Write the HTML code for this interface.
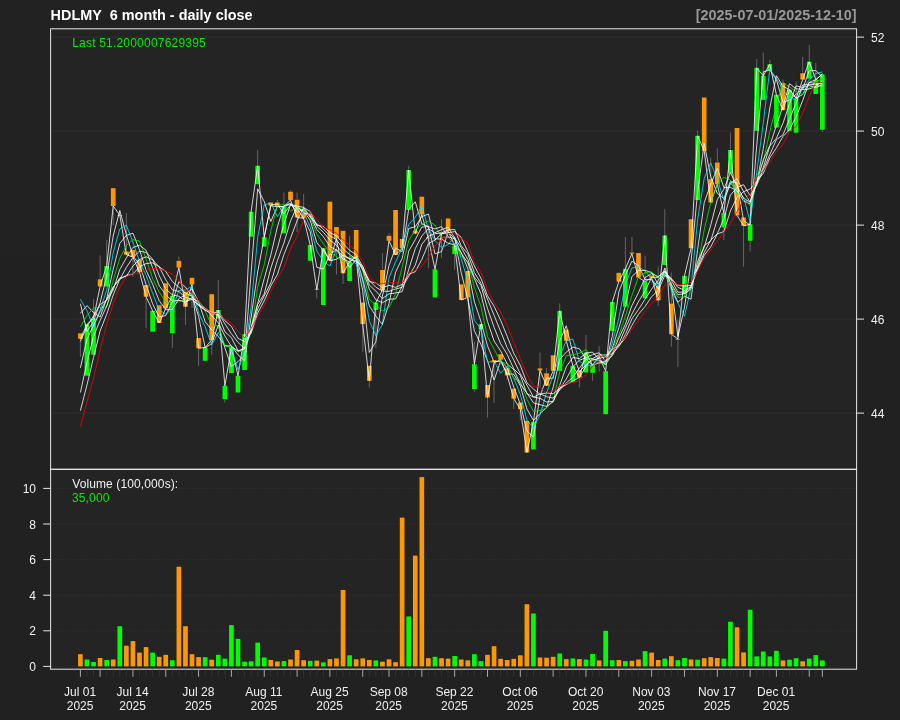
<!DOCTYPE html><html><head><meta charset="utf-8"><title>chart</title><style>html,body{margin:0;padding:0;background:#222222}svg{display:block;will-change:transform;opacity:0.999}text{font-family:"Liberation Sans",sans-serif}</style></head><body>
<svg width="900" height="720" viewBox="0 0 900 720">
<rect x="0" y="0" width="900" height="720" fill="#222222"/>
<rect x="50.6" y="28.8" width="806.0" height="640.4" fill="#252525"/>
<line x1="50.6" x2="856.6" y1="413.10" y2="413.10" stroke="#303030" stroke-width="1"/>
<line x1="50.6" x2="856.6" y1="319.10" y2="319.10" stroke="#303030" stroke-width="1"/>
<line x1="50.6" x2="856.6" y1="225.10" y2="225.10" stroke="#303030" stroke-width="1"/>
<line x1="50.6" x2="856.6" y1="131.10" y2="131.10" stroke="#303030" stroke-width="1"/>
<line x1="50.6" x2="856.6" y1="37.10" y2="37.10" stroke="#303030" stroke-width="1"/>
<line x1="50.6" x2="856.6" y1="666.40" y2="666.40" stroke="#383838" stroke-width="0.9" stroke-dasharray="1 2"/>
<line x1="50.6" x2="856.6" y1="630.80" y2="630.80" stroke="#383838" stroke-width="0.9" stroke-dasharray="1 2"/>
<line x1="50.6" x2="856.6" y1="595.20" y2="595.20" stroke="#383838" stroke-width="0.9" stroke-dasharray="1 2"/>
<line x1="50.6" x2="856.6" y1="559.60" y2="559.60" stroke="#383838" stroke-width="0.9" stroke-dasharray="1 2"/>
<line x1="50.6" x2="856.6" y1="524.00" y2="524.00" stroke="#383838" stroke-width="0.9" stroke-dasharray="1 2"/>
<line x1="50.6" x2="856.6" y1="488.40" y2="488.40" stroke="#383838" stroke-width="0.9" stroke-dasharray="1 2"/>
<line x1="80.40" x2="80.40" y1="333.3" y2="356.7" stroke="#666666" stroke-width="1"/>
<line x1="86.97" x2="86.97" y1="324.3" y2="375.7" stroke="#666666" stroke-width="1"/>
<line x1="93.53" x2="93.53" y1="299.0" y2="354.7" stroke="#666666" stroke-width="1"/>
<line x1="100.10" x2="100.10" y1="255.3" y2="286.5" stroke="#666666" stroke-width="1"/>
<line x1="106.66" x2="106.66" y1="240.0" y2="286.5" stroke="#666666" stroke-width="1"/>
<line x1="113.23" x2="113.23" y1="188.2" y2="225.0" stroke="#666666" stroke-width="1"/>
<line x1="119.80" x2="119.80" y1="213.0" y2="216.0" stroke="#666666" stroke-width="1"/>
<line x1="126.36" x2="126.36" y1="213.3" y2="254.7" stroke="#666666" stroke-width="1"/>
<line x1="132.93" x2="132.93" y1="250.0" y2="276.7" stroke="#666666" stroke-width="1"/>
<line x1="139.49" x2="139.49" y1="259.5" y2="272.3" stroke="#666666" stroke-width="1"/>
<line x1="146.06" x2="146.06" y1="285.0" y2="328.3" stroke="#666666" stroke-width="1"/>
<line x1="152.63" x2="152.63" y1="310.8" y2="331.7" stroke="#666666" stroke-width="1"/>
<line x1="159.19" x2="159.19" y1="305.3" y2="323.0" stroke="#666666" stroke-width="1"/>
<line x1="165.76" x2="165.76" y1="283.3" y2="308.3" stroke="#666666" stroke-width="1"/>
<line x1="172.32" x2="172.32" y1="295.8" y2="348.0" stroke="#666666" stroke-width="1"/>
<line x1="178.89" x2="178.89" y1="256.7" y2="267.5" stroke="#666666" stroke-width="1"/>
<line x1="185.46" x2="185.46" y1="291.7" y2="325.0" stroke="#666666" stroke-width="1"/>
<line x1="192.02" x2="192.02" y1="277.8" y2="308.0" stroke="#666666" stroke-width="1"/>
<line x1="198.59" x2="198.59" y1="338.0" y2="365.8" stroke="#666666" stroke-width="1"/>
<line x1="205.15" x2="205.15" y1="347.3" y2="360.8" stroke="#666666" stroke-width="1"/>
<line x1="211.72" x2="211.72" y1="294.2" y2="354.7" stroke="#666666" stroke-width="1"/>
<line x1="218.29" x2="218.29" y1="280.0" y2="318.3" stroke="#666666" stroke-width="1"/>
<line x1="224.85" x2="224.85" y1="385.8" y2="402.5" stroke="#666666" stroke-width="1"/>
<line x1="231.42" x2="231.42" y1="347.5" y2="373.0" stroke="#666666" stroke-width="1"/>
<line x1="237.98" x2="237.98" y1="375.8" y2="392.5" stroke="#666666" stroke-width="1"/>
<line x1="244.55" x2="244.55" y1="334.2" y2="370.0" stroke="#666666" stroke-width="1"/>
<line x1="251.12" x2="251.12" y1="211.7" y2="236.7" stroke="#666666" stroke-width="1"/>
<line x1="257.68" x2="257.68" y1="150.0" y2="184.2" stroke="#666666" stroke-width="1"/>
<line x1="264.25" x2="264.25" y1="237.2" y2="246.7" stroke="#666666" stroke-width="1"/>
<line x1="270.81" x2="270.81" y1="202.5" y2="205.8" stroke="#666666" stroke-width="1"/>
<line x1="277.38" x2="277.38" y1="200.0" y2="206.7" stroke="#666666" stroke-width="1"/>
<line x1="283.95" x2="283.95" y1="192.5" y2="233.3" stroke="#666666" stroke-width="1"/>
<line x1="290.51" x2="290.51" y1="190.0" y2="200.0" stroke="#666666" stroke-width="1"/>
<line x1="297.08" x2="297.08" y1="192.5" y2="232.0" stroke="#666666" stroke-width="1"/>
<line x1="303.64" x2="303.64" y1="194.0" y2="218.3" stroke="#666666" stroke-width="1"/>
<line x1="310.21" x2="310.21" y1="245.0" y2="260.8" stroke="#666666" stroke-width="1"/>
<line x1="316.78" x2="316.78" y1="288.8" y2="298.3" stroke="#666666" stroke-width="1"/>
<line x1="323.34" x2="323.34" y1="248.3" y2="305.0" stroke="#666666" stroke-width="1"/>
<line x1="329.91" x2="329.91" y1="201.7" y2="260.5" stroke="#666666" stroke-width="1"/>
<line x1="336.47" x2="336.47" y1="227.0" y2="274.8" stroke="#666666" stroke-width="1"/>
<line x1="343.04" x2="343.04" y1="230.8" y2="284.0" stroke="#666666" stroke-width="1"/>
<line x1="349.61" x2="349.61" y1="236.0" y2="281.0" stroke="#666666" stroke-width="1"/>
<line x1="356.17" x2="356.17" y1="230.0" y2="257.0" stroke="#666666" stroke-width="1"/>
<line x1="362.74" x2="362.74" y1="302.5" y2="351.7" stroke="#666666" stroke-width="1"/>
<line x1="369.30" x2="369.30" y1="365.8" y2="387.5" stroke="#666666" stroke-width="1"/>
<line x1="375.87" x2="375.87" y1="302.5" y2="348.0" stroke="#666666" stroke-width="1"/>
<line x1="382.44" x2="382.44" y1="253.0" y2="290.0" stroke="#666666" stroke-width="1"/>
<line x1="389.00" x2="389.00" y1="233.0" y2="240.8" stroke="#666666" stroke-width="1"/>
<line x1="395.57" x2="395.57" y1="210.0" y2="255.0" stroke="#666666" stroke-width="1"/>
<line x1="402.13" x2="402.13" y1="239.0" y2="248.3" stroke="#666666" stroke-width="1"/>
<line x1="408.70" x2="408.70" y1="165.8" y2="210.0" stroke="#666666" stroke-width="1"/>
<line x1="415.27" x2="415.27" y1="230.6" y2="233.6" stroke="#666666" stroke-width="1"/>
<line x1="421.83" x2="421.83" y1="196.7" y2="214.4" stroke="#666666" stroke-width="1"/>
<line x1="428.40" x2="428.40" y1="225.0" y2="268.0" stroke="#666666" stroke-width="1"/>
<line x1="434.96" x2="434.96" y1="269.2" y2="297.5" stroke="#666666" stroke-width="1"/>
<line x1="441.53" x2="441.53" y1="219.0" y2="257.8" stroke="#666666" stroke-width="1"/>
<line x1="448.10" x2="448.10" y1="218.5" y2="231.0" stroke="#666666" stroke-width="1"/>
<line x1="454.66" x2="454.66" y1="245.5" y2="269.7" stroke="#666666" stroke-width="1"/>
<line x1="461.23" x2="461.23" y1="284.4" y2="300.0" stroke="#666666" stroke-width="1"/>
<line x1="467.79" x2="467.79" y1="271.0" y2="297.4" stroke="#666666" stroke-width="1"/>
<line x1="474.36" x2="474.36" y1="341.7" y2="391.7" stroke="#666666" stroke-width="1"/>
<line x1="480.93" x2="480.93" y1="324.2" y2="329.2" stroke="#666666" stroke-width="1"/>
<line x1="487.49" x2="487.49" y1="385.0" y2="417.5" stroke="#666666" stroke-width="1"/>
<line x1="494.06" x2="494.06" y1="360.0" y2="403.0" stroke="#666666" stroke-width="1"/>
<line x1="500.62" x2="500.62" y1="354.2" y2="359.7" stroke="#666666" stroke-width="1"/>
<line x1="507.19" x2="507.19" y1="368.3" y2="380.0" stroke="#666666" stroke-width="1"/>
<line x1="513.76" x2="513.76" y1="388.7" y2="409.0" stroke="#666666" stroke-width="1"/>
<line x1="520.32" x2="520.32" y1="402.5" y2="420.0" stroke="#666666" stroke-width="1"/>
<line x1="526.89" x2="526.89" y1="420.8" y2="452.5" stroke="#666666" stroke-width="1"/>
<line x1="533.45" x2="533.45" y1="421.7" y2="449.5" stroke="#666666" stroke-width="1"/>
<line x1="540.02" x2="540.02" y1="352.5" y2="386.7" stroke="#666666" stroke-width="1"/>
<line x1="546.59" x2="546.59" y1="368.0" y2="385.8" stroke="#666666" stroke-width="1"/>
<line x1="553.15" x2="553.15" y1="355.3" y2="370.8" stroke="#666666" stroke-width="1"/>
<line x1="559.72" x2="559.72" y1="303.3" y2="370.8" stroke="#666666" stroke-width="1"/>
<line x1="566.28" x2="566.28" y1="329.7" y2="340.8" stroke="#666666" stroke-width="1"/>
<line x1="572.85" x2="572.85" y1="365.8" y2="381.7" stroke="#666666" stroke-width="1"/>
<line x1="579.42" x2="579.42" y1="370.5" y2="387.5" stroke="#666666" stroke-width="1"/>
<line x1="585.98" x2="585.98" y1="335.0" y2="372.5" stroke="#666666" stroke-width="1"/>
<line x1="592.55" x2="592.55" y1="365.0" y2="380.8" stroke="#666666" stroke-width="1"/>
<line x1="599.11" x2="599.11" y1="346.0" y2="371.7" stroke="#666666" stroke-width="1"/>
<line x1="605.68" x2="605.68" y1="371.2" y2="414.2" stroke="#666666" stroke-width="1"/>
<line x1="612.25" x2="612.25" y1="302.0" y2="330.8" stroke="#666666" stroke-width="1"/>
<line x1="618.81" x2="618.81" y1="272.8" y2="281.7" stroke="#666666" stroke-width="1"/>
<line x1="625.38" x2="625.38" y1="237.0" y2="306.7" stroke="#666666" stroke-width="1"/>
<line x1="631.94" x2="631.94" y1="237.0" y2="253.7" stroke="#666666" stroke-width="1"/>
<line x1="638.51" x2="638.51" y1="253.0" y2="277.5" stroke="#666666" stroke-width="1"/>
<line x1="645.08" x2="645.08" y1="255.8" y2="298.3" stroke="#666666" stroke-width="1"/>
<line x1="651.64" x2="651.64" y1="275.5" y2="277.5" stroke="#666666" stroke-width="1"/>
<line x1="658.21" x2="658.21" y1="266.7" y2="305.8" stroke="#666666" stroke-width="1"/>
<line x1="664.77" x2="664.77" y1="209.2" y2="265.0" stroke="#666666" stroke-width="1"/>
<line x1="671.34" x2="671.34" y1="272.5" y2="346.7" stroke="#666666" stroke-width="1"/>
<line x1="677.91" x2="677.91" y1="320.0" y2="366.8" stroke="#666666" stroke-width="1"/>
<line x1="684.47" x2="684.47" y1="275.8" y2="294.2" stroke="#666666" stroke-width="1"/>
<line x1="691.04" x2="691.04" y1="219.2" y2="248.3" stroke="#666666" stroke-width="1"/>
<line x1="697.60" x2="697.60" y1="130.8" y2="200.0" stroke="#666666" stroke-width="1"/>
<line x1="704.17" x2="704.17" y1="97.5" y2="150.8" stroke="#666666" stroke-width="1"/>
<line x1="710.74" x2="710.74" y1="157.5" y2="202.5" stroke="#666666" stroke-width="1"/>
<line x1="717.30" x2="717.30" y1="148.3" y2="184.2" stroke="#666666" stroke-width="1"/>
<line x1="723.87" x2="723.87" y1="213.0" y2="240.0" stroke="#666666" stroke-width="1"/>
<line x1="730.43" x2="730.43" y1="132.5" y2="173.3" stroke="#666666" stroke-width="1"/>
<line x1="737.00" x2="737.00" y1="128.0" y2="215.3" stroke="#666666" stroke-width="1"/>
<line x1="743.57" x2="743.57" y1="217.5" y2="266.7" stroke="#666666" stroke-width="1"/>
<line x1="750.13" x2="750.13" y1="224.2" y2="251.7" stroke="#666666" stroke-width="1"/>
<line x1="756.70" x2="756.70" y1="59.0" y2="130.8" stroke="#666666" stroke-width="1"/>
<line x1="763.26" x2="763.26" y1="52.5" y2="99.9" stroke="#666666" stroke-width="1"/>
<line x1="769.83" x2="769.83" y1="59.8" y2="70.7" stroke="#666666" stroke-width="1"/>
<line x1="776.40" x2="776.40" y1="94.8" y2="127.6" stroke="#666666" stroke-width="1"/>
<line x1="782.96" x2="782.96" y1="79.5" y2="110.1" stroke="#666666" stroke-width="1"/>
<line x1="789.53" x2="789.53" y1="89.7" y2="131.2" stroke="#666666" stroke-width="1"/>
<line x1="796.09" x2="796.09" y1="81.7" y2="132.7" stroke="#666666" stroke-width="1"/>
<line x1="802.66" x2="802.66" y1="56.9" y2="79.5" stroke="#666666" stroke-width="1"/>
<line x1="809.23" x2="809.23" y1="44.9" y2="78.7" stroke="#666666" stroke-width="1"/>
<line x1="815.79" x2="815.79" y1="62.7" y2="94.0" stroke="#666666" stroke-width="1"/>
<line x1="822.36" x2="822.36" y1="74.4" y2="132.0" stroke="#666666" stroke-width="1"/>
<rect x="77.55" y="332.8" width="5.70" height="6.5" fill="#1b2330"/>
<rect x="78.05" y="333.3" width="4.70" height="5.5" fill="#FF9900"/>
<rect x="84.12" y="323.8" width="5.70" height="52.4" fill="#1b2330"/>
<rect x="84.62" y="324.3" width="4.70" height="51.4" fill="#00FF00"/>
<rect x="90.68" y="318.0" width="5.70" height="37.2" fill="#1b2330"/>
<rect x="91.18" y="318.5" width="4.70" height="36.2" fill="#00FF00"/>
<rect x="97.25" y="278.8" width="5.70" height="8.2" fill="#1b2330"/>
<rect x="97.75" y="279.3" width="4.70" height="7.2" fill="#FF9900"/>
<rect x="103.81" y="265.5" width="5.70" height="21.5" fill="#1b2330"/>
<rect x="104.31" y="266.0" width="4.70" height="20.5" fill="#00FF00"/>
<rect x="110.38" y="187.7" width="5.70" height="18.8" fill="#1b2330"/>
<rect x="110.88" y="188.2" width="4.70" height="17.8" fill="#FF9900"/>
<rect x="116.95" y="214.5" width="5.70" height="1.8" fill="#1b2330"/>
<rect x="117.45" y="215.0" width="4.70" height="0.8" fill="#00FF00"/>
<rect x="123.51" y="251.0" width="5.70" height="4.2" fill="#1b2330"/>
<rect x="124.01" y="251.5" width="4.70" height="3.2" fill="#FF9900"/>
<rect x="130.08" y="249.5" width="5.70" height="8.0" fill="#1b2330"/>
<rect x="130.58" y="250.0" width="4.70" height="7.0" fill="#FF9900"/>
<rect x="136.64" y="259.0" width="5.70" height="13.8" fill="#1b2330"/>
<rect x="137.14" y="259.5" width="4.70" height="12.8" fill="#FF9900"/>
<rect x="143.21" y="284.5" width="5.70" height="12.7" fill="#1b2330"/>
<rect x="143.71" y="285.0" width="4.70" height="11.7" fill="#FF9900"/>
<rect x="149.78" y="310.3" width="5.70" height="21.9" fill="#1b2330"/>
<rect x="150.28" y="310.8" width="4.70" height="20.9" fill="#00FF00"/>
<rect x="156.34" y="304.8" width="5.70" height="18.7" fill="#1b2330"/>
<rect x="156.84" y="305.3" width="4.70" height="17.7" fill="#FF9900"/>
<rect x="162.91" y="282.8" width="5.70" height="26.0" fill="#1b2330"/>
<rect x="163.41" y="283.3" width="4.70" height="25.0" fill="#FF9900"/>
<rect x="169.47" y="295.3" width="5.70" height="38.5" fill="#1b2330"/>
<rect x="169.97" y="295.8" width="4.70" height="37.5" fill="#00FF00"/>
<rect x="176.04" y="260.3" width="5.70" height="7.7" fill="#1b2330"/>
<rect x="176.54" y="260.8" width="4.70" height="6.7" fill="#FF9900"/>
<rect x="182.61" y="291.2" width="5.70" height="16.0" fill="#1b2330"/>
<rect x="183.11" y="291.7" width="4.70" height="15.0" fill="#FF9900"/>
<rect x="189.17" y="277.3" width="5.70" height="7.7" fill="#1b2330"/>
<rect x="189.67" y="277.8" width="4.70" height="6.7" fill="#FF9900"/>
<rect x="195.74" y="337.5" width="5.70" height="11.3" fill="#1b2330"/>
<rect x="196.24" y="338.0" width="4.70" height="10.3" fill="#FF9900"/>
<rect x="202.30" y="346.8" width="5.70" height="14.5" fill="#1b2330"/>
<rect x="202.80" y="347.3" width="4.70" height="13.5" fill="#00FF00"/>
<rect x="208.87" y="293.7" width="5.70" height="46.8" fill="#1b2330"/>
<rect x="209.37" y="294.2" width="4.70" height="45.8" fill="#FF9900"/>
<rect x="215.44" y="309.5" width="5.70" height="9.3" fill="#1b2330"/>
<rect x="215.94" y="310.0" width="4.70" height="8.3" fill="#00FF00"/>
<rect x="222.00" y="385.3" width="5.70" height="14.4" fill="#1b2330"/>
<rect x="222.50" y="385.8" width="4.70" height="13.4" fill="#00FF00"/>
<rect x="228.57" y="347.0" width="5.70" height="26.5" fill="#1b2330"/>
<rect x="229.07" y="347.5" width="4.70" height="25.5" fill="#00FF00"/>
<rect x="235.13" y="375.3" width="5.70" height="17.7" fill="#1b2330"/>
<rect x="235.63" y="375.8" width="4.70" height="16.7" fill="#00FF00"/>
<rect x="241.70" y="333.7" width="5.70" height="36.8" fill="#1b2330"/>
<rect x="242.20" y="334.2" width="4.70" height="35.8" fill="#00FF00"/>
<rect x="248.27" y="211.2" width="5.70" height="26.0" fill="#1b2330"/>
<rect x="248.77" y="211.7" width="4.70" height="25.0" fill="#00FF00"/>
<rect x="254.83" y="165.3" width="5.70" height="19.4" fill="#1b2330"/>
<rect x="255.33" y="165.8" width="4.70" height="18.4" fill="#00FF00"/>
<rect x="261.40" y="236.7" width="5.70" height="10.5" fill="#1b2330"/>
<rect x="261.90" y="237.2" width="4.70" height="9.5" fill="#00FF00"/>
<rect x="267.96" y="202.0" width="5.70" height="4.3" fill="#1b2330"/>
<rect x="268.46" y="202.5" width="4.70" height="3.3" fill="#FF9900"/>
<rect x="274.53" y="202.0" width="5.70" height="5.2" fill="#1b2330"/>
<rect x="275.03" y="202.5" width="4.70" height="4.2" fill="#FF9900"/>
<rect x="281.10" y="206.2" width="5.70" height="27.6" fill="#1b2330"/>
<rect x="281.60" y="206.7" width="4.70" height="26.6" fill="#00FF00"/>
<rect x="287.66" y="191.2" width="5.70" height="9.3" fill="#1b2330"/>
<rect x="288.16" y="191.7" width="4.70" height="8.3" fill="#FF9900"/>
<rect x="294.23" y="199.2" width="5.70" height="18.8" fill="#1b2330"/>
<rect x="294.73" y="199.7" width="4.70" height="17.8" fill="#FF9900"/>
<rect x="300.79" y="212.8" width="5.70" height="6.0" fill="#1b2330"/>
<rect x="301.29" y="213.3" width="4.70" height="5.0" fill="#FF9900"/>
<rect x="307.36" y="244.5" width="5.70" height="16.8" fill="#1b2330"/>
<rect x="307.86" y="245.0" width="4.70" height="15.8" fill="#00FF00"/>
<rect x="313.93" y="288.3" width="5.70" height="1.8" fill="#1b2330"/>
<rect x="314.43" y="288.8" width="4.70" height="0.8" fill="#FF9900"/>
<rect x="320.49" y="247.8" width="5.70" height="57.7" fill="#1b2330"/>
<rect x="320.99" y="248.3" width="4.70" height="56.7" fill="#00FF00"/>
<rect x="327.06" y="201.2" width="5.70" height="59.8" fill="#1b2330"/>
<rect x="327.56" y="201.7" width="4.70" height="58.8" fill="#FF9900"/>
<rect x="333.62" y="226.5" width="5.70" height="12.5" fill="#1b2330"/>
<rect x="334.12" y="227.0" width="4.70" height="11.5" fill="#FF9900"/>
<rect x="340.19" y="230.3" width="5.70" height="43.5" fill="#1b2330"/>
<rect x="340.69" y="230.8" width="4.70" height="42.5" fill="#FF9900"/>
<rect x="346.76" y="261.2" width="5.70" height="20.3" fill="#1b2330"/>
<rect x="347.26" y="261.7" width="4.70" height="19.3" fill="#00FF00"/>
<rect x="353.32" y="229.5" width="5.70" height="28.0" fill="#1b2330"/>
<rect x="353.82" y="230.0" width="4.70" height="27.0" fill="#FF9900"/>
<rect x="359.89" y="302.0" width="5.70" height="22.7" fill="#1b2330"/>
<rect x="360.39" y="302.5" width="4.70" height="21.7" fill="#FF9900"/>
<rect x="366.45" y="365.3" width="5.70" height="16.0" fill="#1b2330"/>
<rect x="366.95" y="365.8" width="4.70" height="15.0" fill="#FF9900"/>
<rect x="373.02" y="302.0" width="5.70" height="8.5" fill="#1b2330"/>
<rect x="373.52" y="302.5" width="4.70" height="7.5" fill="#00FF00"/>
<rect x="379.59" y="269.5" width="5.70" height="21.0" fill="#1b2330"/>
<rect x="380.09" y="270.0" width="4.70" height="20.0" fill="#FF9900"/>
<rect x="386.15" y="235.3" width="5.70" height="6.0" fill="#1b2330"/>
<rect x="386.65" y="235.8" width="4.70" height="5.0" fill="#FF9900"/>
<rect x="392.72" y="209.5" width="5.70" height="46.0" fill="#1b2330"/>
<rect x="393.22" y="210.0" width="4.70" height="45.0" fill="#FF9900"/>
<rect x="399.28" y="238.5" width="5.70" height="10.3" fill="#1b2330"/>
<rect x="399.78" y="239.0" width="4.70" height="9.3" fill="#FF9900"/>
<rect x="405.85" y="169.5" width="5.70" height="41.0" fill="#1b2330"/>
<rect x="406.35" y="170.0" width="4.70" height="40.0" fill="#00FF00"/>
<rect x="412.42" y="230.1" width="5.70" height="4.0" fill="#1b2330"/>
<rect x="412.92" y="230.6" width="4.70" height="3.0" fill="#FF9900"/>
<rect x="418.98" y="196.2" width="5.70" height="18.7" fill="#1b2330"/>
<rect x="419.48" y="196.7" width="4.70" height="17.7" fill="#FF9900"/>
<rect x="425.55" y="237.0" width="5.70" height="2.0" fill="#1b2330"/>
<rect x="426.05" y="237.5" width="4.70" height="1.0" fill="#FF9900"/>
<rect x="432.11" y="268.7" width="5.70" height="29.3" fill="#1b2330"/>
<rect x="432.61" y="269.2" width="4.70" height="28.3" fill="#00FF00"/>
<rect x="438.68" y="232.1" width="5.70" height="2.4" fill="#1b2330"/>
<rect x="439.18" y="232.6" width="4.70" height="1.4" fill="#FF9900"/>
<rect x="445.25" y="218.0" width="5.70" height="13.5" fill="#1b2330"/>
<rect x="445.75" y="218.5" width="4.70" height="12.5" fill="#FF9900"/>
<rect x="451.81" y="245.0" width="5.70" height="9.7" fill="#1b2330"/>
<rect x="452.31" y="245.5" width="4.70" height="8.7" fill="#00FF00"/>
<rect x="458.38" y="283.9" width="5.70" height="16.6" fill="#1b2330"/>
<rect x="458.88" y="284.4" width="4.70" height="15.6" fill="#FF9900"/>
<rect x="464.94" y="270.5" width="5.70" height="27.4" fill="#1b2330"/>
<rect x="465.44" y="271.0" width="4.70" height="26.4" fill="#FF9900"/>
<rect x="471.51" y="363.7" width="5.70" height="26.0" fill="#1b2330"/>
<rect x="472.01" y="364.2" width="4.70" height="25.0" fill="#00FF00"/>
<rect x="478.08" y="323.7" width="5.70" height="6.0" fill="#1b2330"/>
<rect x="478.58" y="324.2" width="4.70" height="5.0" fill="#00FF00"/>
<rect x="484.64" y="384.5" width="5.70" height="13.5" fill="#1b2330"/>
<rect x="485.14" y="385.0" width="4.70" height="12.5" fill="#FF9900"/>
<rect x="491.21" y="359.5" width="5.70" height="3.5" fill="#1b2330"/>
<rect x="491.71" y="360.0" width="4.70" height="2.5" fill="#FF9900"/>
<rect x="497.77" y="353.7" width="5.70" height="6.5" fill="#1b2330"/>
<rect x="498.27" y="354.2" width="4.70" height="5.5" fill="#FF9900"/>
<rect x="504.34" y="367.8" width="5.70" height="8.2" fill="#1b2330"/>
<rect x="504.84" y="368.3" width="4.70" height="7.2" fill="#FF9900"/>
<rect x="510.91" y="388.2" width="5.70" height="11.0" fill="#1b2330"/>
<rect x="511.41" y="388.7" width="4.70" height="10.0" fill="#FF9900"/>
<rect x="517.47" y="402.0" width="5.70" height="7.7" fill="#1b2330"/>
<rect x="517.97" y="402.5" width="4.70" height="6.7" fill="#FF9900"/>
<rect x="524.04" y="420.3" width="5.70" height="32.7" fill="#1b2330"/>
<rect x="524.54" y="420.8" width="4.70" height="31.7" fill="#FF9900"/>
<rect x="530.60" y="421.2" width="5.70" height="28.8" fill="#1b2330"/>
<rect x="531.10" y="421.7" width="4.70" height="27.8" fill="#00FF00"/>
<rect x="537.17" y="367.8" width="5.70" height="3.2" fill="#1b2330"/>
<rect x="537.67" y="368.3" width="4.70" height="2.2" fill="#FF9900"/>
<rect x="543.74" y="372.8" width="5.70" height="13.5" fill="#1b2330"/>
<rect x="544.24" y="373.3" width="4.70" height="12.5" fill="#FF9900"/>
<rect x="550.30" y="354.8" width="5.70" height="16.5" fill="#1b2330"/>
<rect x="550.80" y="355.3" width="4.70" height="15.5" fill="#FF9900"/>
<rect x="556.87" y="310.3" width="5.70" height="61.0" fill="#1b2330"/>
<rect x="557.37" y="310.8" width="4.70" height="60.0" fill="#00FF00"/>
<rect x="563.43" y="329.2" width="5.70" height="12.1" fill="#1b2330"/>
<rect x="563.93" y="329.7" width="4.70" height="11.1" fill="#FF9900"/>
<rect x="570.00" y="365.3" width="5.70" height="16.9" fill="#1b2330"/>
<rect x="570.50" y="365.8" width="4.70" height="15.9" fill="#00FF00"/>
<rect x="576.57" y="370.0" width="5.70" height="8.0" fill="#1b2330"/>
<rect x="577.07" y="370.5" width="4.70" height="7.0" fill="#FF9900"/>
<rect x="583.13" y="352.0" width="5.70" height="21.0" fill="#1b2330"/>
<rect x="583.63" y="352.5" width="4.70" height="20.0" fill="#00FF00"/>
<rect x="589.70" y="364.5" width="5.70" height="8.8" fill="#1b2330"/>
<rect x="590.20" y="365.0" width="4.70" height="7.8" fill="#00FF00"/>
<rect x="596.26" y="355.1" width="5.70" height="1.8" fill="#1b2330"/>
<rect x="596.76" y="355.6" width="4.70" height="0.8" fill="#FF9900"/>
<rect x="602.83" y="370.7" width="5.70" height="44.0" fill="#1b2330"/>
<rect x="603.33" y="371.2" width="4.70" height="43.0" fill="#00FF00"/>
<rect x="609.40" y="301.5" width="5.70" height="29.8" fill="#1b2330"/>
<rect x="609.90" y="302.0" width="4.70" height="28.8" fill="#00FF00"/>
<rect x="615.96" y="272.3" width="5.70" height="9.9" fill="#1b2330"/>
<rect x="616.46" y="272.8" width="4.70" height="8.9" fill="#FF9900"/>
<rect x="622.53" y="268.2" width="5.70" height="39.0" fill="#1b2330"/>
<rect x="623.03" y="268.7" width="4.70" height="38.0" fill="#00FF00"/>
<rect x="629.09" y="252.0" width="5.70" height="2.2" fill="#1b2330"/>
<rect x="629.59" y="252.5" width="4.70" height="1.2" fill="#FF9900"/>
<rect x="635.66" y="252.5" width="5.70" height="25.5" fill="#1b2330"/>
<rect x="636.16" y="253.0" width="4.70" height="24.5" fill="#FF9900"/>
<rect x="642.23" y="281.2" width="5.70" height="17.6" fill="#1b2330"/>
<rect x="642.73" y="281.7" width="4.70" height="16.6" fill="#00FF00"/>
<rect x="648.79" y="275.0" width="5.70" height="3.0" fill="#1b2330"/>
<rect x="649.29" y="275.5" width="4.70" height="2.0" fill="#FF9900"/>
<rect x="655.36" y="285.3" width="5.70" height="15.6" fill="#1b2330"/>
<rect x="655.86" y="285.8" width="4.70" height="14.6" fill="#FF9900"/>
<rect x="661.92" y="235.0" width="5.70" height="30.5" fill="#1b2330"/>
<rect x="662.42" y="235.5" width="4.70" height="29.5" fill="#00FF00"/>
<rect x="668.49" y="303.0" width="5.70" height="31.7" fill="#1b2330"/>
<rect x="668.99" y="303.5" width="4.70" height="30.7" fill="#FF9900"/>
<rect x="675.06" y="338.5" width="5.70" height="1.8" fill="#1b2330"/>
<rect x="675.56" y="339.0" width="4.70" height="0.8" fill="#00FF00"/>
<rect x="681.62" y="275.3" width="5.70" height="19.4" fill="#1b2330"/>
<rect x="682.12" y="275.8" width="4.70" height="18.4" fill="#00FF00"/>
<rect x="688.19" y="218.7" width="5.70" height="30.1" fill="#1b2330"/>
<rect x="688.69" y="219.2" width="4.70" height="29.1" fill="#FF9900"/>
<rect x="694.75" y="135.3" width="5.70" height="65.2" fill="#1b2330"/>
<rect x="695.25" y="135.8" width="4.70" height="64.2" fill="#00FF00"/>
<rect x="701.32" y="97.0" width="5.70" height="54.3" fill="#1b2330"/>
<rect x="701.82" y="97.5" width="4.70" height="53.3" fill="#FF9900"/>
<rect x="707.89" y="178.7" width="5.70" height="24.3" fill="#1b2330"/>
<rect x="708.39" y="179.2" width="4.70" height="23.3" fill="#FF9900"/>
<rect x="714.45" y="162.0" width="5.70" height="22.7" fill="#1b2330"/>
<rect x="714.95" y="162.5" width="4.70" height="21.7" fill="#FF9900"/>
<rect x="721.02" y="212.5" width="5.70" height="15.5" fill="#1b2330"/>
<rect x="721.52" y="213.0" width="4.70" height="14.5" fill="#00FF00"/>
<rect x="727.58" y="149.5" width="5.70" height="24.3" fill="#1b2330"/>
<rect x="728.08" y="150.0" width="4.70" height="23.3" fill="#00FF00"/>
<rect x="734.15" y="127.5" width="5.70" height="88.3" fill="#1b2330"/>
<rect x="734.65" y="128.0" width="4.70" height="87.3" fill="#FF9900"/>
<rect x="740.72" y="217.0" width="5.70" height="9.3" fill="#1b2330"/>
<rect x="741.22" y="217.5" width="4.70" height="8.3" fill="#FF9900"/>
<rect x="747.28" y="223.7" width="5.70" height="17.6" fill="#1b2330"/>
<rect x="747.78" y="224.2" width="4.70" height="16.6" fill="#00FF00"/>
<rect x="753.85" y="67.3" width="5.70" height="64.0" fill="#1b2330"/>
<rect x="754.35" y="67.8" width="4.70" height="63.0" fill="#00FF00"/>
<rect x="760.41" y="75.3" width="5.70" height="25.1" fill="#1b2330"/>
<rect x="760.91" y="75.8" width="4.70" height="24.1" fill="#00FF00"/>
<rect x="766.98" y="63.7" width="5.70" height="7.5" fill="#1b2330"/>
<rect x="767.48" y="64.2" width="4.70" height="6.5" fill="#00FF00"/>
<rect x="773.55" y="94.3" width="5.70" height="33.8" fill="#1b2330"/>
<rect x="774.05" y="94.8" width="4.70" height="32.8" fill="#00FF00"/>
<rect x="780.11" y="82.6" width="5.70" height="28.0" fill="#1b2330"/>
<rect x="780.61" y="83.1" width="4.70" height="27.0" fill="#FF9900"/>
<rect x="786.68" y="89.2" width="5.70" height="42.5" fill="#1b2330"/>
<rect x="787.18" y="89.7" width="4.70" height="41.5" fill="#00FF00"/>
<rect x="793.24" y="97.9" width="5.70" height="35.3" fill="#1b2330"/>
<rect x="793.74" y="98.4" width="4.70" height="34.3" fill="#00FF00"/>
<rect x="799.81" y="72.7" width="5.70" height="7.3" fill="#1b2330"/>
<rect x="800.31" y="73.2" width="4.70" height="6.3" fill="#FF9900"/>
<rect x="806.38" y="61.2" width="5.70" height="18.0" fill="#1b2330"/>
<rect x="806.88" y="61.7" width="4.70" height="17.0" fill="#00FF00"/>
<rect x="812.94" y="79.0" width="5.70" height="15.5" fill="#1b2330"/>
<rect x="813.44" y="79.5" width="4.70" height="14.5" fill="#00FF00"/>
<rect x="819.51" y="73.9" width="5.70" height="56.4" fill="#1b2330"/>
<rect x="820.01" y="74.4" width="4.70" height="55.4" fill="#00FF00"/>
<polyline points="80.4,338.8 87.0,324.3 93.5,318.5 100.1,286.5 106.7,266.0 113.2,206.0 119.8,215.0 126.4,254.7 132.9,257.0 139.5,272.3 146.1,296.7 152.6,310.8 159.2,323.0 165.8,308.3 172.3,295.8 178.9,267.5 185.5,306.7 192.0,284.5 198.6,348.3 205.2,347.3 211.7,340.0 218.3,310.0 224.9,385.8 231.4,347.5 238.0,375.8 244.6,334.2 251.1,211.7 257.7,165.8 264.2,237.2 270.8,205.8 277.4,206.7 283.9,206.7 290.5,200.0 297.1,217.5 303.6,218.3 310.2,245.0 316.8,289.6 323.3,248.3 329.9,260.5 336.5,238.5 343.0,273.3 349.6,261.7 356.2,257.0 362.7,324.2 369.3,380.8 375.9,302.5 382.4,290.0 389.0,240.8 395.6,255.0 402.1,248.3 408.7,170.0 415.3,233.6 421.8,214.4 428.4,238.5 435.0,269.2 441.5,234.0 448.1,231.0 454.7,245.5 461.2,300.0 467.8,297.4 474.4,364.2 480.9,324.2 487.5,397.5 494.1,362.5 500.6,359.7 507.2,375.5 513.8,398.7 520.3,409.2 526.9,452.5 533.5,421.7 540.0,370.5 546.6,385.8 553.2,370.8 559.7,310.8 566.3,340.8 572.9,365.8 579.4,377.5 586.0,352.5 592.5,365.0 599.1,356.4 605.7,371.2 612.2,302.0 618.8,281.7 625.4,268.7 631.9,253.7 638.5,277.5 645.1,281.7 651.6,277.5 658.2,300.4 664.8,235.5 671.3,334.2 677.9,339.0 684.5,275.8 691.0,248.3 697.6,135.8 704.2,150.8 710.7,202.5 717.3,184.2 723.9,213.0 730.4,150.0 737.0,215.3 743.6,225.8 750.1,224.2 756.7,67.8 763.3,75.8 769.8,64.2 776.4,94.8 783.0,110.1 789.5,89.7 796.1,98.4 802.7,79.5 809.2,61.7 815.8,79.5 822.4,74.4" fill="none" stroke="#FFFFFF" stroke-width="0.8" stroke-linejoin="round"/>
<polyline points="80.4,303.7 87.0,331.6 93.5,321.4 100.1,302.5 106.7,276.2 113.2,236.0 119.8,210.5 126.4,234.8 132.9,255.8 139.5,264.6 146.1,284.5 152.6,303.8 159.2,316.9 165.8,315.6 172.3,302.1 178.9,281.6 185.5,287.1 192.0,295.6 198.6,316.4 205.2,347.8 211.7,343.6 218.3,325.0 224.9,347.9 231.4,366.6 238.0,361.6 244.6,355.0 251.1,272.9 257.7,188.8 264.2,201.5 270.8,221.5 277.4,206.2 283.9,206.7 290.5,203.3 297.1,208.8 303.6,217.9 310.2,231.7 316.8,267.3 323.3,269.0 329.9,254.4 336.5,249.5 343.0,255.9 349.6,267.5 356.2,259.4 362.7,290.6 369.3,352.5 375.9,341.6 382.4,296.2 389.0,265.4 395.6,247.9 402.1,251.7 408.7,209.2 415.3,201.8 421.8,224.0 428.4,226.4 435.0,253.8 441.5,251.6 448.1,232.5 454.7,238.2 461.2,272.8 467.8,298.7 474.4,330.8 480.9,344.2 487.5,360.9 494.1,380.0 500.6,361.1 507.2,367.6 513.8,387.1 520.3,403.9 526.9,430.9 533.5,437.1 540.0,396.1 546.6,378.1 553.2,378.3 559.7,340.8 566.3,325.8 572.9,353.3 579.4,371.6 586.0,365.0 592.5,358.8 599.1,360.7 605.7,363.8 612.2,336.6 618.8,291.9 625.4,275.2 631.9,261.2 638.5,265.6 645.1,279.6 651.6,279.6 658.2,288.9 664.8,267.9 671.3,284.9 677.9,336.6 684.5,307.4 691.0,262.1 697.6,192.1 704.2,143.3 710.7,176.7 717.3,193.3 723.9,198.6 730.4,181.5 737.0,182.7 743.6,220.6 750.1,225.0 756.7,146.0 763.3,71.8 769.8,70.0 776.4,79.5 783.0,102.4 789.5,99.9 796.1,94.1 802.7,89.0 809.2,70.6 815.8,70.6 822.4,77.0" fill="none" stroke="#FFFFFF" stroke-width="0.8" stroke-linejoin="round"/>
<polyline points="80.4,299.3 87.0,310.6 93.5,327.2 100.1,309.8 106.7,290.3 113.2,252.8 119.8,229.0 126.4,225.2 132.9,242.2 139.5,261.3 146.1,275.3 152.6,293.3 159.2,310.2 165.8,314.0 172.3,309.0 178.9,290.5 185.5,290.0 192.0,286.2 198.6,313.2 205.2,326.7 211.7,345.2 218.3,332.4 224.9,345.3 231.4,347.8 238.0,369.7 244.6,352.5 251.1,307.2 257.7,237.2 264.2,204.9 270.8,202.9 277.4,216.6 283.9,206.4 290.5,204.5 297.1,208.1 303.6,211.9 310.2,226.9 316.8,251.0 323.3,261.0 329.9,266.1 336.5,249.1 343.0,257.4 349.6,257.8 356.2,264.0 362.7,281.0 369.3,320.7 375.9,335.8 382.4,324.4 389.0,277.8 395.6,261.9 402.1,248.0 408.7,224.4 415.3,217.3 421.8,206.0 428.4,228.8 435.0,240.7 441.5,247.2 448.1,244.7 454.7,236.8 461.2,258.8 467.8,281.0 474.4,320.5 480.9,328.6 487.5,362.0 494.1,361.4 500.6,373.2 507.2,365.9 513.8,378.0 520.3,394.5 526.9,420.1 533.5,427.8 540.0,414.9 546.6,392.7 553.2,375.7 559.7,355.8 566.3,340.8 572.9,339.1 579.4,361.4 586.0,365.3 592.5,365.0 599.1,358.0 605.7,364.2 612.2,343.2 618.8,318.3 625.4,284.1 631.9,268.0 638.5,266.6 645.1,271.0 651.6,278.9 658.2,286.5 664.8,271.1 671.3,290.0 677.9,302.9 684.5,316.3 691.0,287.7 697.6,220.0 704.2,178.3 710.7,163.0 717.3,179.2 723.9,199.9 730.4,182.4 737.0,192.8 743.6,197.0 750.1,221.8 756.7,172.6 763.3,122.6 769.8,69.3 776.4,78.3 783.0,89.7 789.5,98.2 796.1,99.4 802.7,89.2 809.2,79.9 815.8,73.6 822.4,71.9" fill="none" stroke="#00EEFF" stroke-width="0.8" stroke-linejoin="round"/>
<polyline points="80.4,313.3 87.0,305.6 93.5,312.6 100.1,317.0 106.7,298.8 113.2,269.2 119.8,243.4 126.4,235.4 132.9,233.2 139.5,249.8 146.1,270.2 152.6,284.2 159.2,300.7 165.8,309.7 172.3,309.5 178.9,298.6 185.5,294.6 192.0,288.6 198.6,301.8 205.2,321.7 211.7,330.0 218.3,336.4 224.9,345.8 231.4,345.8 238.0,354.8 244.6,360.8 251.1,317.3 257.7,271.9 264.2,237.2 270.8,205.1 277.4,203.9 283.9,214.1 290.5,204.8 297.1,207.7 303.6,210.6 310.2,220.2 316.8,242.6 323.3,250.3 329.9,260.9 336.5,259.2 343.0,255.2 349.6,258.5 356.2,257.6 362.7,279.1 369.3,305.9 375.9,316.1 382.4,324.4 389.0,303.5 395.6,272.1 402.1,258.5 408.7,228.5 415.3,226.7 421.8,216.6 428.4,214.1 435.0,238.9 441.5,239.0 448.1,243.2 454.7,244.9 461.2,252.6 467.8,268.5 474.4,301.8 480.9,321.4 487.5,345.8 494.1,362.1 500.6,361.0 507.2,373.8 513.8,374.1 520.3,385.8 526.9,409.0 533.5,420.5 540.0,413.5 546.6,407.6 553.2,387.2 559.7,359.5 566.3,352.1 572.9,347.1 579.4,348.7 586.0,359.1 592.5,365.2 599.1,362.9 605.7,361.3 612.2,348.6 618.8,327.8 625.4,305.9 631.9,276.5 638.5,270.4 645.1,270.4 651.6,272.6 658.2,284.3 664.8,273.8 671.3,286.9 677.9,302.3 684.5,296.1 691.0,299.3 697.6,249.7 704.2,202.7 710.7,184.4 717.3,168.3 723.9,187.6 730.4,187.4 737.0,190.6 743.6,201.0 750.1,203.8 756.7,183.3 763.3,148.4 769.8,108.0 776.4,75.7 783.0,86.2 789.5,89.7 796.1,98.2 802.7,94.4 809.2,82.3 815.8,79.8 822.4,73.8" fill="none" stroke="#FFFFFF" stroke-width="0.8" stroke-linejoin="round"/>
<polyline points="80.4,326.7 87.0,315.5 93.5,308.1 100.1,307.3 106.7,306.8 113.2,280.3 119.8,258.4 126.4,245.6 132.9,239.7 139.5,241.0 146.1,259.1 152.6,278.3 159.2,292.0 165.8,302.2 172.3,306.9 178.9,301.1 185.5,300.3 192.0,292.6 198.6,300.6 205.2,310.9 211.7,325.4 218.3,326.0 224.9,346.3 231.4,346.1 238.0,351.8 244.6,350.7 251.1,331.0 257.7,287.0 264.2,264.9 270.8,230.9 277.4,205.4 283.9,204.4 290.5,211.3 297.1,207.3 303.6,209.8 310.2,217.5 316.8,234.1 323.3,243.7 329.9,252.3 336.5,256.4 343.0,262.0 349.6,256.5 356.2,258.2 362.7,270.9 369.3,299.4 375.9,305.2 382.4,310.9 389.0,307.7 395.6,293.8 402.1,267.3 408.7,240.8 415.3,229.5 421.8,224.3 428.4,221.0 435.0,225.1 441.5,237.9 448.1,237.4 454.7,243.6 461.2,255.9 467.8,261.6 474.4,287.6 480.9,306.3 487.5,336.7 494.1,349.2 500.6,361.6 507.2,363.9 513.8,378.8 520.3,381.1 526.9,399.1 533.5,411.5 540.0,410.5 546.6,407.9 553.2,400.3 559.7,371.9 566.3,355.7 572.9,354.8 579.4,353.1 586.0,349.5 592.5,360.3 599.1,363.4 605.7,364.5 612.2,349.4 618.8,335.3 625.4,316.0 631.9,295.5 638.5,276.7 645.1,272.7 651.6,271.8 658.2,278.2 664.8,274.5 671.3,285.9 677.9,297.3 684.5,297.0 691.0,286.6 697.6,266.6 704.2,229.9 710.7,202.6 717.3,184.3 723.9,177.3 730.4,180.1 737.0,193.0 743.6,197.7 750.1,205.7 756.7,176.6 763.3,161.8 769.8,131.6 776.4,105.4 783.0,82.5 789.5,86.9 796.1,91.4 802.7,94.5 809.2,87.9 815.8,81.8 822.4,78.7" fill="none" stroke="#00F000" stroke-width="0.8" stroke-linejoin="round"/>
<polyline points="80.4,341.4 87.0,326.3 93.5,316.0 100.1,304.5 106.7,300.4 113.2,290.0 119.8,269.4 126.4,257.8 132.9,247.5 139.5,245.2 146.1,250.3 152.6,267.8 159.2,285.8 165.8,294.7 172.3,301.2 178.9,300.3 185.5,302.0 192.0,297.6 198.6,301.8 205.2,308.3 211.7,315.7 218.3,322.8 224.9,336.0 231.4,346.5 238.0,351.1 244.6,348.9 251.1,327.5 257.7,303.5 264.2,278.7 270.8,255.1 277.4,226.9 283.9,205.7 290.5,203.7 297.1,212.3 303.6,209.2 310.2,215.7 316.8,229.5 323.3,236.5 329.9,246.5 336.5,250.0 343.0,259.2 349.6,262.0 356.2,256.6 362.7,269.2 369.3,289.2 375.9,299.9 382.4,302.7 389.0,299.2 395.6,298.9 402.1,286.2 408.7,251.1 415.3,239.6 421.8,227.0 428.4,226.6 435.0,229.0 441.5,226.6 448.1,236.8 454.7,238.8 461.2,253.0 467.8,262.8 474.4,278.7 480.9,293.7 487.5,321.5 494.1,341.0 500.6,350.9 507.2,363.9 513.8,369.7 520.3,383.8 526.9,393.0 533.5,402.9 540.0,404.7 546.6,406.4 553.2,401.8 559.7,385.3 566.3,366.7 572.9,357.4 579.4,358.6 586.0,353.0 592.5,352.1 599.1,359.7 605.7,364.7 612.2,354.1 618.8,338.1 625.4,324.2 631.9,305.6 638.5,292.5 645.1,277.6 651.6,273.5 658.2,276.6 664.8,271.1 671.3,284.5 677.9,294.7 684.5,293.7 691.0,288.9 697.6,261.4 704.2,247.3 710.7,225.4 717.3,199.6 723.9,189.1 730.4,172.7 737.0,186.0 743.6,198.5 750.1,202.1 756.7,182.7 763.3,159.8 769.8,145.5 776.4,125.4 783.0,106.1 789.5,83.7 796.1,88.8 802.7,89.5 809.2,89.0 815.8,86.5 822.4,80.5" fill="none" stroke="#FFFFFF" stroke-width="0.8" stroke-linejoin="round"/>
<polyline points="80.4,367.8 87.0,339.0 93.5,325.2 100.1,311.8 106.7,299.0 113.2,287.0 119.8,279.3 126.4,267.3 132.9,257.7 139.5,251.1 146.1,252.5 152.6,258.9 159.2,275.6 165.8,289.0 172.3,294.8 178.9,296.3 185.5,301.3 192.0,299.5 198.6,304.9 205.2,308.3 211.7,312.9 218.3,314.9 224.9,331.8 231.4,337.6 238.0,350.7 244.6,348.7 251.1,329.3 257.7,304.4 264.2,294.0 270.8,268.3 277.4,248.2 283.9,224.0 290.5,204.8 297.1,205.7 303.6,213.2 310.2,214.3 316.8,226.3 323.3,232.2 329.9,239.9 336.5,245.4 343.0,253.4 349.6,259.6 356.2,261.3 362.7,266.2 369.3,285.1 375.9,291.1 382.4,298.5 389.0,293.9 395.6,292.9 402.1,291.7 408.7,269.6 415.3,248.6 421.8,236.0 428.4,228.7 435.0,232.7 441.5,229.7 448.1,227.2 454.7,238.0 461.2,247.5 467.8,259.4 474.4,277.3 480.9,285.2 487.5,308.5 494.1,327.3 500.6,343.6 507.2,354.4 513.8,368.9 520.3,375.3 526.9,393.7 533.5,397.1 540.0,398.3 546.6,402.0 553.2,401.3 559.7,388.8 566.3,379.0 572.9,366.6 579.4,360.3 586.0,357.7 592.5,354.7 599.1,352.7 605.7,361.3 612.2,355.8 618.8,343.8 625.4,328.2 631.9,314.1 638.5,301.6 645.1,290.9 651.6,277.5 658.2,277.3 664.8,270.7 671.3,280.1 677.9,292.3 684.5,292.0 691.0,287.2 697.6,267.0 704.2,245.6 710.7,240.9 717.3,219.5 723.9,201.5 730.4,183.5 737.0,178.8 743.6,191.7 750.1,202.1 756.7,182.9 763.3,167.4 769.8,146.2 776.4,138.3 783.0,123.2 789.5,103.8 796.1,85.8 802.7,87.5 809.2,85.5 815.8,87.7 822.4,84.8" fill="none" stroke="#FFFFFF" stroke-width="0.8" stroke-linejoin="round"/>
<polyline points="80.4,392.5 87.0,362.4 93.5,336.4 100.1,320.4 106.7,306.1 113.2,287.4 119.8,278.0 126.4,276.2 132.9,266.0 139.5,259.5 146.1,256.8 152.6,259.8 159.2,266.9 165.8,279.7 172.3,289.8 178.9,291.4 185.5,297.6 192.0,299.2 198.6,305.6 205.2,310.2 211.7,312.3 218.3,312.5 224.9,323.8 231.4,333.8 238.0,342.4 244.6,348.6 251.1,331.5 257.7,308.9 264.2,296.0 270.8,283.0 277.4,260.6 283.9,243.0 290.5,221.0 297.1,206.4 303.6,207.2 310.2,217.2 316.8,223.7 323.3,229.0 329.9,235.7 336.5,239.7 343.0,248.9 349.6,254.4 356.2,259.2 362.7,269.1 369.3,280.5 375.9,287.3 382.4,291.0 389.0,291.3 395.6,289.0 402.1,287.3 408.7,276.4 415.3,265.1 421.8,244.3 428.4,236.3 435.0,233.7 441.5,232.9 448.1,229.9 454.7,229.5 461.2,245.8 467.8,253.8 474.4,272.5 480.9,283.2 487.5,299.2 494.1,315.3 500.6,331.4 507.2,347.6 513.8,360.0 520.3,373.9 526.9,385.0 533.5,397.2 540.0,393.8 546.6,396.7 553.2,398.1 559.7,390.0 566.3,382.8 572.9,377.3 579.4,368.0 586.0,359.3 592.5,358.6 599.1,354.9 605.7,355.0 612.2,353.9 618.8,346.5 625.4,334.4 631.9,318.9 638.5,309.5 645.1,299.1 651.6,289.2 658.2,280.4 664.8,272.1 671.3,278.6 677.9,287.4 684.5,290.2 691.0,286.6 697.6,268.3 704.2,252.5 710.7,240.2 717.3,233.8 723.9,218.7 730.4,195.1 737.0,187.5 743.6,184.7 750.1,195.7 756.7,185.3 763.3,169.5 769.8,154.5 776.4,139.7 783.0,134.8 789.5,119.0 796.1,103.1 802.7,85.0 809.2,84.3 815.8,84.7 822.4,86.0" fill="none" stroke="#FFFFFF" stroke-width="0.8" stroke-linejoin="round"/>
<polyline points="80.4,410.6 87.0,384.9 93.5,357.5 100.1,330.9 106.7,314.3 113.2,295.0 119.8,279.4 126.4,275.4 132.9,274.1 139.5,266.7 146.1,263.6 152.6,262.8 159.2,266.8 165.8,271.5 172.3,281.5 178.9,287.3 185.5,293.1 192.0,296.2 198.6,304.6 205.2,310.2 211.7,313.5 218.3,312.0 224.9,320.7 231.4,326.4 238.0,338.4 244.6,341.5 251.1,333.4 257.7,313.1 264.2,300.9 270.8,286.0 277.4,274.5 283.9,254.6 290.5,238.2 297.1,220.6 303.6,207.7 310.2,211.4 316.8,225.2 323.3,226.4 329.9,232.5 336.5,236.0 343.0,243.4 349.6,250.3 356.2,254.7 362.7,266.5 369.3,281.5 375.9,283.0 382.4,287.6 389.0,285.4 395.6,287.3 402.1,284.5 408.7,274.3 415.3,271.7 421.8,259.5 428.4,243.7 435.0,240.0 441.5,233.8 448.1,232.7 454.7,231.6 461.2,237.4 467.8,251.5 474.4,266.0 480.9,278.2 487.5,295.9 494.1,306.3 500.6,320.2 507.2,336.3 513.8,353.3 520.3,365.4 526.9,382.7 533.5,389.1 540.0,394.2 546.6,392.9 553.2,393.8 559.7,388.4 566.3,384.5 572.9,380.9 579.4,377.4 586.0,366.2 592.5,359.9 599.1,358.4 605.7,356.8 612.2,349.1 618.8,345.9 625.4,337.9 631.9,325.4 638.5,314.3 645.1,306.4 651.6,296.7 658.2,290.5 664.8,275.4 671.3,279.0 677.9,285.4 684.5,286.1 691.0,285.5 697.6,269.8 704.2,255.3 710.7,246.9 717.3,234.0 723.9,231.5 730.4,211.0 737.0,197.3 743.6,191.7 750.1,189.1 756.7,181.5 763.3,173.2 769.8,157.8 776.4,147.9 783.0,136.4 789.5,129.7 796.1,116.8 802.7,100.5 809.2,82.4 815.8,83.7 822.4,83.6" fill="none" stroke="#FFFFFF" stroke-width="0.8" stroke-linejoin="round"/>
<polyline points="80.4,426.5 87.0,402.0 93.5,378.3 100.1,350.4 106.7,324.4 113.2,303.5 119.8,287.0 126.4,276.9 132.9,273.5 139.5,273.9 146.1,269.7 152.6,268.4 159.2,268.8 165.8,271.0 172.3,274.0 178.9,280.1 185.5,289.3 192.0,292.3 198.6,301.4 205.2,308.9 211.7,313.2 218.3,313.1 224.9,319.4 231.4,323.3 238.0,331.3 244.6,338.0 251.1,328.5 257.7,316.6 264.2,305.5 270.8,291.4 277.4,278.1 283.9,267.7 290.5,249.1 297.1,236.1 303.6,220.4 310.2,211.5 316.8,219.3 323.3,227.5 329.9,229.8 336.5,233.1 343.0,239.8 349.6,245.3 356.2,251.0 362.7,261.6 369.3,277.9 375.9,283.6 382.4,283.7 389.0,282.9 395.6,282.4 402.1,283.4 408.7,273.0 415.3,270.2 421.8,266.0 428.4,257.4 435.0,246.2 441.5,239.4 448.1,233.5 454.7,233.9 461.2,238.4 467.8,243.4 474.4,262.8 480.9,271.8 487.5,290.1 494.1,302.6 500.6,311.6 507.2,325.8 513.8,342.5 520.3,358.9 526.9,374.1 533.5,386.6 540.0,387.2 546.6,393.4 553.2,390.7 559.7,385.5 566.3,383.6 572.9,382.7 579.4,380.5 586.0,374.9 592.5,366.1 599.1,359.6 605.7,359.7 612.2,351.3 618.8,342.4 625.4,338.2 631.9,329.4 638.5,320.6 645.1,311.0 651.6,303.5 658.2,297.1 664.8,285.0 671.3,281.3 677.9,285.0 684.5,284.4 691.0,282.4 697.6,270.6 704.2,257.9 710.7,250.0 717.3,240.7 723.9,231.9 730.4,223.4 737.0,211.5 743.6,200.2 750.1,195.0 756.7,176.9 763.3,170.9 769.8,162.3 776.4,151.5 783.0,144.1 789.5,131.8 796.1,126.6 802.7,113.0 809.2,96.6 815.8,82.2 822.4,82.8" fill="none" stroke="#FF0000" stroke-width="0.8" stroke-linejoin="round"/>
<rect x="77.55" y="653.7" width="5.70" height="12.7" fill="#1b2330"/>
<rect x="78.05" y="654.2" width="4.70" height="12.2" fill="#FF9900"/>
<rect x="84.12" y="659.0" width="5.70" height="7.4" fill="#1b2330"/>
<rect x="84.62" y="659.5" width="4.70" height="6.9" fill="#00FF00"/>
<rect x="90.68" y="661.5" width="5.70" height="4.9" fill="#1b2330"/>
<rect x="91.18" y="662.0" width="4.70" height="4.4" fill="#00FF00"/>
<rect x="97.25" y="657.5" width="5.70" height="8.9" fill="#1b2330"/>
<rect x="97.75" y="658.0" width="4.70" height="8.4" fill="#FF9900"/>
<rect x="103.81" y="659.5" width="5.70" height="6.9" fill="#1b2330"/>
<rect x="104.31" y="660.0" width="4.70" height="6.4" fill="#00FF00"/>
<rect x="110.38" y="659.0" width="5.70" height="7.4" fill="#1b2330"/>
<rect x="110.88" y="659.5" width="4.70" height="6.9" fill="#FF9900"/>
<rect x="116.95" y="625.7" width="5.70" height="40.7" fill="#1b2330"/>
<rect x="117.45" y="626.2" width="4.70" height="40.2" fill="#00FF00"/>
<rect x="123.51" y="645.2" width="5.70" height="21.2" fill="#1b2330"/>
<rect x="124.01" y="645.7" width="4.70" height="20.7" fill="#FF9900"/>
<rect x="130.08" y="640.6" width="5.70" height="25.8" fill="#1b2330"/>
<rect x="130.58" y="641.1" width="4.70" height="25.3" fill="#FF9900"/>
<rect x="136.64" y="652.1" width="5.70" height="14.3" fill="#1b2330"/>
<rect x="137.14" y="652.6" width="4.70" height="13.8" fill="#FF9900"/>
<rect x="143.21" y="646.6" width="5.70" height="19.8" fill="#1b2330"/>
<rect x="143.71" y="647.1" width="4.70" height="19.3" fill="#FF9900"/>
<rect x="149.78" y="652.1" width="5.70" height="14.3" fill="#1b2330"/>
<rect x="150.28" y="652.6" width="4.70" height="13.8" fill="#00FF00"/>
<rect x="156.34" y="656.3" width="5.70" height="10.1" fill="#1b2330"/>
<rect x="156.84" y="656.8" width="4.70" height="9.6" fill="#FF9900"/>
<rect x="162.91" y="654.3" width="5.70" height="12.1" fill="#1b2330"/>
<rect x="163.41" y="654.8" width="4.70" height="11.6" fill="#FF9900"/>
<rect x="169.47" y="659.7" width="5.70" height="6.7" fill="#1b2330"/>
<rect x="169.97" y="660.2" width="4.70" height="6.2" fill="#00FF00"/>
<rect x="176.04" y="566.2" width="5.70" height="100.2" fill="#1b2330"/>
<rect x="176.54" y="566.7" width="4.70" height="99.7" fill="#FF9900"/>
<rect x="182.61" y="625.7" width="5.70" height="40.7" fill="#1b2330"/>
<rect x="183.11" y="626.2" width="4.70" height="40.2" fill="#FF9900"/>
<rect x="189.17" y="653.7" width="5.70" height="12.7" fill="#1b2330"/>
<rect x="189.67" y="654.2" width="4.70" height="12.2" fill="#FF9900"/>
<rect x="195.74" y="656.6" width="5.70" height="9.8" fill="#1b2330"/>
<rect x="196.24" y="657.1" width="4.70" height="9.3" fill="#FF9900"/>
<rect x="202.30" y="656.6" width="5.70" height="9.8" fill="#1b2330"/>
<rect x="202.80" y="657.1" width="4.70" height="9.3" fill="#00FF00"/>
<rect x="208.87" y="659.2" width="5.70" height="7.2" fill="#1b2330"/>
<rect x="209.37" y="659.7" width="4.70" height="6.7" fill="#FF9900"/>
<rect x="215.44" y="654.3" width="5.70" height="12.1" fill="#1b2330"/>
<rect x="215.94" y="654.8" width="4.70" height="11.6" fill="#00FF00"/>
<rect x="222.00" y="658.1" width="5.70" height="8.3" fill="#1b2330"/>
<rect x="222.50" y="658.6" width="4.70" height="7.8" fill="#00FF00"/>
<rect x="228.57" y="624.6" width="5.70" height="41.8" fill="#1b2330"/>
<rect x="229.07" y="625.1" width="4.70" height="41.3" fill="#00FF00"/>
<rect x="235.13" y="638.3" width="5.70" height="28.1" fill="#1b2330"/>
<rect x="235.63" y="638.8" width="4.70" height="27.6" fill="#00FF00"/>
<rect x="241.70" y="661.2" width="5.70" height="5.2" fill="#1b2330"/>
<rect x="242.20" y="661.7" width="4.70" height="4.7" fill="#00FF00"/>
<rect x="248.27" y="660.8" width="5.70" height="5.6" fill="#1b2330"/>
<rect x="248.77" y="661.3" width="4.70" height="5.1" fill="#00FF00"/>
<rect x="254.83" y="642.1" width="5.70" height="24.3" fill="#1b2330"/>
<rect x="255.33" y="642.6" width="4.70" height="23.8" fill="#00FF00"/>
<rect x="261.40" y="657.0" width="5.70" height="9.4" fill="#1b2330"/>
<rect x="261.90" y="657.5" width="4.70" height="8.9" fill="#00FF00"/>
<rect x="267.96" y="659.5" width="5.70" height="6.9" fill="#1b2330"/>
<rect x="268.46" y="660.0" width="4.70" height="6.4" fill="#FF9900"/>
<rect x="274.53" y="661.0" width="5.70" height="5.4" fill="#1b2330"/>
<rect x="275.03" y="661.5" width="4.70" height="4.9" fill="#FF9900"/>
<rect x="281.10" y="660.6" width="5.70" height="5.8" fill="#1b2330"/>
<rect x="281.60" y="661.1" width="4.70" height="5.3" fill="#00FF00"/>
<rect x="287.66" y="659.0" width="5.70" height="7.4" fill="#1b2330"/>
<rect x="288.16" y="659.5" width="4.70" height="6.9" fill="#FF9900"/>
<rect x="294.23" y="649.5" width="5.70" height="16.9" fill="#1b2330"/>
<rect x="294.73" y="650.0" width="4.70" height="16.4" fill="#FF9900"/>
<rect x="300.79" y="659.7" width="5.70" height="6.7" fill="#1b2330"/>
<rect x="301.29" y="660.2" width="4.70" height="6.2" fill="#FF9900"/>
<rect x="307.36" y="660.3" width="5.70" height="6.1" fill="#1b2330"/>
<rect x="307.86" y="660.8" width="4.70" height="5.6" fill="#00FF00"/>
<rect x="313.93" y="660.1" width="5.70" height="6.3" fill="#1b2330"/>
<rect x="314.43" y="660.6" width="4.70" height="5.8" fill="#FF9900"/>
<rect x="320.49" y="661.9" width="5.70" height="4.5" fill="#1b2330"/>
<rect x="320.99" y="662.4" width="4.70" height="4.0" fill="#00FF00"/>
<rect x="327.06" y="658.6" width="5.70" height="7.8" fill="#1b2330"/>
<rect x="327.56" y="659.1" width="4.70" height="7.3" fill="#FF9900"/>
<rect x="333.62" y="657.9" width="5.70" height="8.5" fill="#1b2330"/>
<rect x="334.12" y="658.4" width="4.70" height="8.0" fill="#FF9900"/>
<rect x="340.19" y="589.5" width="5.70" height="76.9" fill="#1b2330"/>
<rect x="340.69" y="590.0" width="4.70" height="76.4" fill="#FF9900"/>
<rect x="346.76" y="654.8" width="5.70" height="11.6" fill="#1b2330"/>
<rect x="347.26" y="655.3" width="4.70" height="11.1" fill="#00FF00"/>
<rect x="353.32" y="658.8" width="5.70" height="7.6" fill="#1b2330"/>
<rect x="353.82" y="659.3" width="4.70" height="7.1" fill="#FF9900"/>
<rect x="359.89" y="657.9" width="5.70" height="8.5" fill="#1b2330"/>
<rect x="360.39" y="658.4" width="4.70" height="8.0" fill="#FF9900"/>
<rect x="366.45" y="659.5" width="5.70" height="6.9" fill="#1b2330"/>
<rect x="366.95" y="660.0" width="4.70" height="6.4" fill="#FF9900"/>
<rect x="373.02" y="659.9" width="5.70" height="6.5" fill="#1b2330"/>
<rect x="373.52" y="660.4" width="4.70" height="6.0" fill="#00FF00"/>
<rect x="379.59" y="661.2" width="5.70" height="5.2" fill="#1b2330"/>
<rect x="380.09" y="661.7" width="4.70" height="4.7" fill="#FF9900"/>
<rect x="386.15" y="658.8" width="5.70" height="7.6" fill="#1b2330"/>
<rect x="386.65" y="659.3" width="4.70" height="7.1" fill="#FF9900"/>
<rect x="392.72" y="661.7" width="5.70" height="4.7" fill="#1b2330"/>
<rect x="393.22" y="662.2" width="4.70" height="4.2" fill="#FF9900"/>
<rect x="399.28" y="517.1" width="5.70" height="149.3" fill="#1b2330"/>
<rect x="399.78" y="517.6" width="4.70" height="148.8" fill="#FF9900"/>
<rect x="405.85" y="615.9" width="5.70" height="50.5" fill="#1b2330"/>
<rect x="406.35" y="616.4" width="4.70" height="50.0" fill="#00FF00"/>
<rect x="412.42" y="555.1" width="5.70" height="111.3" fill="#1b2330"/>
<rect x="412.92" y="555.6" width="4.70" height="110.8" fill="#FF9900"/>
<rect x="418.98" y="476.6" width="5.70" height="189.8" fill="#1b2330"/>
<rect x="419.48" y="477.1" width="4.70" height="189.3" fill="#FF9900"/>
<rect x="425.55" y="657.7" width="5.70" height="8.7" fill="#1b2330"/>
<rect x="426.05" y="658.2" width="4.70" height="8.2" fill="#FF9900"/>
<rect x="432.11" y="656.3" width="5.70" height="10.1" fill="#1b2330"/>
<rect x="432.61" y="656.8" width="4.70" height="9.6" fill="#00FF00"/>
<rect x="438.68" y="657.7" width="5.70" height="8.7" fill="#1b2330"/>
<rect x="439.18" y="658.2" width="4.70" height="8.2" fill="#FF9900"/>
<rect x="445.25" y="658.1" width="5.70" height="8.3" fill="#1b2330"/>
<rect x="445.75" y="658.6" width="4.70" height="7.8" fill="#FF9900"/>
<rect x="451.81" y="655.5" width="5.70" height="10.9" fill="#1b2330"/>
<rect x="452.31" y="656.0" width="4.70" height="10.4" fill="#00FF00"/>
<rect x="458.38" y="659.0" width="5.70" height="7.4" fill="#1b2330"/>
<rect x="458.88" y="659.5" width="4.70" height="6.9" fill="#FF9900"/>
<rect x="464.94" y="659.9" width="5.70" height="6.5" fill="#1b2330"/>
<rect x="465.44" y="660.4" width="4.70" height="6.0" fill="#FF9900"/>
<rect x="471.51" y="653.7" width="5.70" height="12.7" fill="#1b2330"/>
<rect x="472.01" y="654.2" width="4.70" height="12.2" fill="#00FF00"/>
<rect x="478.08" y="660.6" width="5.70" height="5.8" fill="#1b2330"/>
<rect x="478.58" y="661.1" width="4.70" height="5.3" fill="#00FF00"/>
<rect x="484.64" y="654.3" width="5.70" height="12.1" fill="#1b2330"/>
<rect x="485.14" y="654.8" width="4.70" height="11.6" fill="#FF9900"/>
<rect x="491.21" y="645.7" width="5.70" height="20.7" fill="#1b2330"/>
<rect x="491.71" y="646.2" width="4.70" height="20.2" fill="#FF9900"/>
<rect x="497.77" y="658.3" width="5.70" height="8.1" fill="#1b2330"/>
<rect x="498.27" y="658.8" width="4.70" height="7.6" fill="#FF9900"/>
<rect x="504.34" y="659.5" width="5.70" height="6.9" fill="#1b2330"/>
<rect x="504.84" y="660.0" width="4.70" height="6.4" fill="#FF9900"/>
<rect x="510.91" y="658.3" width="5.70" height="8.1" fill="#1b2330"/>
<rect x="511.41" y="658.8" width="4.70" height="7.6" fill="#FF9900"/>
<rect x="517.47" y="654.8" width="5.70" height="11.6" fill="#1b2330"/>
<rect x="517.97" y="655.3" width="4.70" height="11.1" fill="#FF9900"/>
<rect x="524.04" y="603.7" width="5.70" height="62.7" fill="#1b2330"/>
<rect x="524.54" y="604.2" width="4.70" height="62.2" fill="#FF9900"/>
<rect x="530.60" y="613.0" width="5.70" height="53.4" fill="#1b2330"/>
<rect x="531.10" y="613.5" width="4.70" height="52.9" fill="#00FF00"/>
<rect x="537.17" y="657.0" width="5.70" height="9.4" fill="#1b2330"/>
<rect x="537.67" y="657.5" width="4.70" height="8.9" fill="#FF9900"/>
<rect x="543.74" y="657.2" width="5.70" height="9.2" fill="#1b2330"/>
<rect x="544.24" y="657.7" width="4.70" height="8.7" fill="#FF9900"/>
<rect x="550.30" y="656.3" width="5.70" height="10.1" fill="#1b2330"/>
<rect x="550.80" y="656.8" width="4.70" height="9.6" fill="#FF9900"/>
<rect x="556.87" y="653.0" width="5.70" height="13.4" fill="#1b2330"/>
<rect x="557.37" y="653.5" width="4.70" height="12.9" fill="#00FF00"/>
<rect x="563.43" y="658.6" width="5.70" height="7.8" fill="#1b2330"/>
<rect x="563.93" y="659.1" width="4.70" height="7.3" fill="#FF9900"/>
<rect x="570.00" y="657.9" width="5.70" height="8.5" fill="#1b2330"/>
<rect x="570.50" y="658.4" width="4.70" height="8.0" fill="#00FF00"/>
<rect x="576.57" y="658.6" width="5.70" height="7.8" fill="#1b2330"/>
<rect x="577.07" y="659.1" width="4.70" height="7.3" fill="#FF9900"/>
<rect x="583.13" y="659.0" width="5.70" height="7.4" fill="#1b2330"/>
<rect x="583.63" y="659.5" width="4.70" height="6.9" fill="#00FF00"/>
<rect x="589.70" y="653.5" width="5.70" height="12.9" fill="#1b2330"/>
<rect x="590.20" y="654.0" width="4.70" height="12.4" fill="#00FF00"/>
<rect x="596.26" y="659.9" width="5.70" height="6.5" fill="#1b2330"/>
<rect x="596.76" y="660.4" width="4.70" height="6.0" fill="#FF9900"/>
<rect x="602.83" y="630.3" width="5.70" height="36.1" fill="#1b2330"/>
<rect x="603.33" y="630.8" width="4.70" height="35.6" fill="#00FF00"/>
<rect x="609.40" y="659.7" width="5.70" height="6.7" fill="#1b2330"/>
<rect x="609.90" y="660.2" width="4.70" height="6.2" fill="#00FF00"/>
<rect x="615.96" y="659.5" width="5.70" height="6.9" fill="#1b2330"/>
<rect x="616.46" y="660.0" width="4.70" height="6.4" fill="#FF9900"/>
<rect x="622.53" y="660.6" width="5.70" height="5.8" fill="#1b2330"/>
<rect x="623.03" y="661.1" width="4.70" height="5.3" fill="#00FF00"/>
<rect x="629.09" y="660.3" width="5.70" height="6.1" fill="#1b2330"/>
<rect x="629.59" y="660.8" width="4.70" height="5.6" fill="#FF9900"/>
<rect x="635.66" y="659.0" width="5.70" height="7.4" fill="#1b2330"/>
<rect x="636.16" y="659.5" width="4.70" height="6.9" fill="#FF9900"/>
<rect x="642.23" y="650.6" width="5.70" height="15.8" fill="#1b2330"/>
<rect x="642.73" y="651.1" width="4.70" height="15.3" fill="#00FF00"/>
<rect x="648.79" y="652.1" width="5.70" height="14.3" fill="#1b2330"/>
<rect x="649.29" y="652.6" width="4.70" height="13.8" fill="#FF9900"/>
<rect x="655.36" y="659.5" width="5.70" height="6.9" fill="#1b2330"/>
<rect x="655.86" y="660.0" width="4.70" height="6.4" fill="#FF9900"/>
<rect x="661.92" y="658.1" width="5.70" height="8.3" fill="#1b2330"/>
<rect x="662.42" y="658.6" width="4.70" height="7.8" fill="#00FF00"/>
<rect x="668.49" y="655.7" width="5.70" height="10.7" fill="#1b2330"/>
<rect x="668.99" y="656.2" width="4.70" height="10.2" fill="#FF9900"/>
<rect x="675.06" y="659.7" width="5.70" height="6.7" fill="#1b2330"/>
<rect x="675.56" y="660.2" width="4.70" height="6.2" fill="#00FF00"/>
<rect x="681.62" y="657.5" width="5.70" height="8.9" fill="#1b2330"/>
<rect x="682.12" y="658.0" width="4.70" height="8.4" fill="#00FF00"/>
<rect x="688.19" y="659.0" width="5.70" height="7.4" fill="#1b2330"/>
<rect x="688.69" y="659.5" width="4.70" height="6.9" fill="#FF9900"/>
<rect x="694.75" y="659.2" width="5.70" height="7.2" fill="#1b2330"/>
<rect x="695.25" y="659.7" width="4.70" height="6.7" fill="#00FF00"/>
<rect x="701.32" y="657.7" width="5.70" height="8.7" fill="#1b2330"/>
<rect x="701.82" y="658.2" width="4.70" height="8.2" fill="#FF9900"/>
<rect x="707.89" y="656.6" width="5.70" height="9.8" fill="#1b2330"/>
<rect x="708.39" y="657.1" width="4.70" height="9.3" fill="#FF9900"/>
<rect x="714.45" y="657.5" width="5.70" height="8.9" fill="#1b2330"/>
<rect x="714.95" y="658.0" width="4.70" height="8.4" fill="#FF9900"/>
<rect x="721.02" y="658.1" width="5.70" height="8.3" fill="#1b2330"/>
<rect x="721.52" y="658.6" width="4.70" height="7.8" fill="#00FF00"/>
<rect x="727.58" y="621.2" width="5.70" height="45.2" fill="#1b2330"/>
<rect x="728.08" y="621.7" width="4.70" height="44.7" fill="#00FF00"/>
<rect x="734.15" y="626.8" width="5.70" height="39.6" fill="#1b2330"/>
<rect x="734.65" y="627.3" width="4.70" height="39.1" fill="#FF9900"/>
<rect x="740.72" y="651.9" width="5.70" height="14.5" fill="#1b2330"/>
<rect x="741.22" y="652.4" width="4.70" height="14.0" fill="#FF9900"/>
<rect x="747.28" y="609.2" width="5.70" height="57.2" fill="#1b2330"/>
<rect x="747.78" y="609.7" width="4.70" height="56.7" fill="#00FF00"/>
<rect x="753.85" y="655.9" width="5.70" height="10.5" fill="#1b2330"/>
<rect x="754.35" y="656.4" width="4.70" height="10.0" fill="#00FF00"/>
<rect x="760.41" y="651.0" width="5.70" height="15.4" fill="#1b2330"/>
<rect x="760.91" y="651.5" width="4.70" height="14.9" fill="#00FF00"/>
<rect x="766.98" y="655.9" width="5.70" height="10.5" fill="#1b2330"/>
<rect x="767.48" y="656.4" width="4.70" height="10.0" fill="#00FF00"/>
<rect x="773.55" y="650.3" width="5.70" height="16.1" fill="#1b2330"/>
<rect x="774.05" y="650.8" width="4.70" height="15.6" fill="#00FF00"/>
<rect x="780.11" y="659.9" width="5.70" height="6.5" fill="#1b2330"/>
<rect x="780.61" y="660.4" width="4.70" height="6.0" fill="#FF9900"/>
<rect x="786.68" y="659.2" width="5.70" height="7.2" fill="#1b2330"/>
<rect x="787.18" y="659.7" width="4.70" height="6.7" fill="#00FF00"/>
<rect x="793.24" y="657.7" width="5.70" height="8.7" fill="#1b2330"/>
<rect x="793.74" y="658.2" width="4.70" height="8.2" fill="#00FF00"/>
<rect x="799.81" y="660.8" width="5.70" height="5.6" fill="#1b2330"/>
<rect x="800.31" y="661.3" width="4.70" height="5.1" fill="#FF9900"/>
<rect x="806.38" y="658.1" width="5.70" height="8.3" fill="#1b2330"/>
<rect x="806.88" y="658.6" width="4.70" height="7.8" fill="#00FF00"/>
<rect x="812.94" y="654.6" width="5.70" height="11.8" fill="#1b2330"/>
<rect x="813.44" y="655.1" width="4.70" height="11.3" fill="#00FF00"/>
<rect x="819.51" y="659.9" width="5.70" height="6.5" fill="#1b2330"/>
<rect x="820.01" y="660.4" width="4.70" height="6.0" fill="#00FF00"/>
<rect x="50.6" y="28.8" width="806.0" height="440.5" fill="none" stroke="#E8E8E8" stroke-width="1"/>
<rect x="50.6" y="469.3" width="806.0" height="199.9" fill="none" stroke="#E8E8E8" stroke-width="1"/>
<g style="opacity:0.999">
<line x1="856.6" x2="864.0" y1="413.10" y2="413.10" stroke="#E8E8E8" stroke-width="1"/>
<text x="871" y="417.7" font-size="12" fill="#F2F2F2">44</text>
<line x1="856.6" x2="864.0" y1="319.10" y2="319.10" stroke="#E8E8E8" stroke-width="1"/>
<text x="871" y="323.7" font-size="12" fill="#F2F2F2">46</text>
<line x1="856.6" x2="864.0" y1="225.10" y2="225.10" stroke="#E8E8E8" stroke-width="1"/>
<text x="871" y="229.7" font-size="12" fill="#F2F2F2">48</text>
<line x1="856.6" x2="864.0" y1="131.10" y2="131.10" stroke="#E8E8E8" stroke-width="1"/>
<text x="871" y="135.7" font-size="12" fill="#F2F2F2">50</text>
<line x1="856.6" x2="864.0" y1="37.10" y2="37.10" stroke="#E8E8E8" stroke-width="1"/>
<text x="871" y="41.7" font-size="12" fill="#F2F2F2">52</text>
<line x1="43.2" x2="50.6" y1="666.40" y2="666.40" stroke="#E8E8E8" stroke-width="1"/>
<text x="36" y="671.0" font-size="12" fill="#F2F2F2" text-anchor="end">0</text>
<line x1="43.2" x2="50.6" y1="630.80" y2="630.80" stroke="#E8E8E8" stroke-width="1"/>
<text x="36" y="635.4" font-size="12" fill="#F2F2F2" text-anchor="end">2</text>
<line x1="43.2" x2="50.6" y1="595.20" y2="595.20" stroke="#E8E8E8" stroke-width="1"/>
<text x="36" y="599.8" font-size="12" fill="#F2F2F2" text-anchor="end">4</text>
<line x1="43.2" x2="50.6" y1="559.60" y2="559.60" stroke="#E8E8E8" stroke-width="1"/>
<text x="36" y="564.2" font-size="12" fill="#F2F2F2" text-anchor="end">6</text>
<line x1="43.2" x2="50.6" y1="524.00" y2="524.00" stroke="#E8E8E8" stroke-width="1"/>
<text x="36" y="528.6" font-size="12" fill="#F2F2F2" text-anchor="end">8</text>
<line x1="43.2" x2="50.6" y1="488.40" y2="488.40" stroke="#E8E8E8" stroke-width="1"/>
<text x="36" y="493.0" font-size="12" fill="#F2F2F2" text-anchor="end">10</text>
<line x1="80.40" x2="80.40" y1="669.2" y2="676.8" stroke="#AAAAAA" stroke-width="1"/>
<line x1="86.97" x2="86.97" y1="669.7" y2="676.8" stroke="#333333" stroke-width="1"/>
<line x1="93.53" x2="93.53" y1="669.7" y2="676.8" stroke="#333333" stroke-width="1"/>
<line x1="100.10" x2="100.10" y1="669.2" y2="676.8" stroke="#AAAAAA" stroke-width="1"/>
<line x1="106.66" x2="106.66" y1="669.7" y2="676.8" stroke="#333333" stroke-width="1"/>
<line x1="113.23" x2="113.23" y1="669.7" y2="676.8" stroke="#333333" stroke-width="1"/>
<line x1="119.80" x2="119.80" y1="669.7" y2="676.8" stroke="#333333" stroke-width="1"/>
<line x1="126.36" x2="126.36" y1="669.7" y2="676.8" stroke="#333333" stroke-width="1"/>
<line x1="132.93" x2="132.93" y1="669.2" y2="676.8" stroke="#AAAAAA" stroke-width="1"/>
<line x1="139.49" x2="139.49" y1="669.7" y2="676.8" stroke="#333333" stroke-width="1"/>
<line x1="146.06" x2="146.06" y1="669.7" y2="676.8" stroke="#333333" stroke-width="1"/>
<line x1="152.63" x2="152.63" y1="669.7" y2="676.8" stroke="#333333" stroke-width="1"/>
<line x1="159.19" x2="159.19" y1="669.7" y2="676.8" stroke="#333333" stroke-width="1"/>
<line x1="165.76" x2="165.76" y1="669.2" y2="676.8" stroke="#AAAAAA" stroke-width="1"/>
<line x1="172.32" x2="172.32" y1="669.7" y2="676.8" stroke="#333333" stroke-width="1"/>
<line x1="178.89" x2="178.89" y1="669.7" y2="676.8" stroke="#333333" stroke-width="1"/>
<line x1="185.46" x2="185.46" y1="669.7" y2="676.8" stroke="#333333" stroke-width="1"/>
<line x1="192.02" x2="192.02" y1="669.7" y2="676.8" stroke="#333333" stroke-width="1"/>
<line x1="198.59" x2="198.59" y1="669.2" y2="676.8" stroke="#AAAAAA" stroke-width="1"/>
<line x1="205.15" x2="205.15" y1="669.7" y2="676.8" stroke="#333333" stroke-width="1"/>
<line x1="211.72" x2="211.72" y1="669.7" y2="676.8" stroke="#333333" stroke-width="1"/>
<line x1="218.29" x2="218.29" y1="669.7" y2="676.8" stroke="#333333" stroke-width="1"/>
<line x1="224.85" x2="224.85" y1="669.7" y2="676.8" stroke="#333333" stroke-width="1"/>
<line x1="231.42" x2="231.42" y1="669.2" y2="676.8" stroke="#AAAAAA" stroke-width="1"/>
<line x1="237.98" x2="237.98" y1="669.7" y2="676.8" stroke="#333333" stroke-width="1"/>
<line x1="244.55" x2="244.55" y1="669.7" y2="676.8" stroke="#333333" stroke-width="1"/>
<line x1="251.12" x2="251.12" y1="669.7" y2="676.8" stroke="#333333" stroke-width="1"/>
<line x1="257.68" x2="257.68" y1="669.7" y2="676.8" stroke="#333333" stroke-width="1"/>
<line x1="264.25" x2="264.25" y1="669.2" y2="676.8" stroke="#AAAAAA" stroke-width="1"/>
<line x1="270.81" x2="270.81" y1="669.7" y2="676.8" stroke="#333333" stroke-width="1"/>
<line x1="277.38" x2="277.38" y1="669.7" y2="676.8" stroke="#333333" stroke-width="1"/>
<line x1="283.95" x2="283.95" y1="669.7" y2="676.8" stroke="#333333" stroke-width="1"/>
<line x1="290.51" x2="290.51" y1="669.7" y2="676.8" stroke="#333333" stroke-width="1"/>
<line x1="297.08" x2="297.08" y1="669.2" y2="676.8" stroke="#AAAAAA" stroke-width="1"/>
<line x1="303.64" x2="303.64" y1="669.7" y2="676.8" stroke="#333333" stroke-width="1"/>
<line x1="310.21" x2="310.21" y1="669.7" y2="676.8" stroke="#333333" stroke-width="1"/>
<line x1="316.78" x2="316.78" y1="669.7" y2="676.8" stroke="#333333" stroke-width="1"/>
<line x1="323.34" x2="323.34" y1="669.7" y2="676.8" stroke="#333333" stroke-width="1"/>
<line x1="329.91" x2="329.91" y1="669.2" y2="676.8" stroke="#AAAAAA" stroke-width="1"/>
<line x1="336.47" x2="336.47" y1="669.7" y2="676.8" stroke="#333333" stroke-width="1"/>
<line x1="343.04" x2="343.04" y1="669.7" y2="676.8" stroke="#333333" stroke-width="1"/>
<line x1="349.61" x2="349.61" y1="669.7" y2="676.8" stroke="#333333" stroke-width="1"/>
<line x1="356.17" x2="356.17" y1="669.7" y2="676.8" stroke="#333333" stroke-width="1"/>
<line x1="362.74" x2="362.74" y1="669.2" y2="676.8" stroke="#AAAAAA" stroke-width="1"/>
<line x1="369.30" x2="369.30" y1="669.7" y2="676.8" stroke="#333333" stroke-width="1"/>
<line x1="375.87" x2="375.87" y1="669.7" y2="676.8" stroke="#333333" stroke-width="1"/>
<line x1="382.44" x2="382.44" y1="669.7" y2="676.8" stroke="#333333" stroke-width="1"/>
<line x1="389.00" x2="389.00" y1="669.2" y2="676.8" stroke="#AAAAAA" stroke-width="1"/>
<line x1="395.57" x2="395.57" y1="669.7" y2="676.8" stroke="#333333" stroke-width="1"/>
<line x1="402.13" x2="402.13" y1="669.7" y2="676.8" stroke="#333333" stroke-width="1"/>
<line x1="408.70" x2="408.70" y1="669.7" y2="676.8" stroke="#333333" stroke-width="1"/>
<line x1="415.27" x2="415.27" y1="669.7" y2="676.8" stroke="#333333" stroke-width="1"/>
<line x1="421.83" x2="421.83" y1="669.2" y2="676.8" stroke="#AAAAAA" stroke-width="1"/>
<line x1="428.40" x2="428.40" y1="669.7" y2="676.8" stroke="#333333" stroke-width="1"/>
<line x1="434.96" x2="434.96" y1="669.7" y2="676.8" stroke="#333333" stroke-width="1"/>
<line x1="441.53" x2="441.53" y1="669.7" y2="676.8" stroke="#333333" stroke-width="1"/>
<line x1="448.10" x2="448.10" y1="669.7" y2="676.8" stroke="#333333" stroke-width="1"/>
<line x1="454.66" x2="454.66" y1="669.2" y2="676.8" stroke="#AAAAAA" stroke-width="1"/>
<line x1="461.23" x2="461.23" y1="669.7" y2="676.8" stroke="#333333" stroke-width="1"/>
<line x1="467.79" x2="467.79" y1="669.7" y2="676.8" stroke="#333333" stroke-width="1"/>
<line x1="474.36" x2="474.36" y1="669.7" y2="676.8" stroke="#333333" stroke-width="1"/>
<line x1="480.93" x2="480.93" y1="669.7" y2="676.8" stroke="#333333" stroke-width="1"/>
<line x1="487.49" x2="487.49" y1="669.2" y2="676.8" stroke="#AAAAAA" stroke-width="1"/>
<line x1="494.06" x2="494.06" y1="669.7" y2="676.8" stroke="#333333" stroke-width="1"/>
<line x1="500.62" x2="500.62" y1="669.7" y2="676.8" stroke="#333333" stroke-width="1"/>
<line x1="507.19" x2="507.19" y1="669.7" y2="676.8" stroke="#333333" stroke-width="1"/>
<line x1="513.76" x2="513.76" y1="669.7" y2="676.8" stroke="#333333" stroke-width="1"/>
<line x1="520.32" x2="520.32" y1="669.2" y2="676.8" stroke="#AAAAAA" stroke-width="1"/>
<line x1="526.89" x2="526.89" y1="669.7" y2="676.8" stroke="#333333" stroke-width="1"/>
<line x1="533.45" x2="533.45" y1="669.7" y2="676.8" stroke="#333333" stroke-width="1"/>
<line x1="540.02" x2="540.02" y1="669.7" y2="676.8" stroke="#333333" stroke-width="1"/>
<line x1="546.59" x2="546.59" y1="669.7" y2="676.8" stroke="#333333" stroke-width="1"/>
<line x1="553.15" x2="553.15" y1="669.2" y2="676.8" stroke="#AAAAAA" stroke-width="1"/>
<line x1="559.72" x2="559.72" y1="669.7" y2="676.8" stroke="#333333" stroke-width="1"/>
<line x1="566.28" x2="566.28" y1="669.7" y2="676.8" stroke="#333333" stroke-width="1"/>
<line x1="572.85" x2="572.85" y1="669.7" y2="676.8" stroke="#333333" stroke-width="1"/>
<line x1="579.42" x2="579.42" y1="669.7" y2="676.8" stroke="#333333" stroke-width="1"/>
<line x1="585.98" x2="585.98" y1="669.2" y2="676.8" stroke="#AAAAAA" stroke-width="1"/>
<line x1="592.55" x2="592.55" y1="669.7" y2="676.8" stroke="#333333" stroke-width="1"/>
<line x1="599.11" x2="599.11" y1="669.7" y2="676.8" stroke="#333333" stroke-width="1"/>
<line x1="605.68" x2="605.68" y1="669.7" y2="676.8" stroke="#333333" stroke-width="1"/>
<line x1="612.25" x2="612.25" y1="669.7" y2="676.8" stroke="#333333" stroke-width="1"/>
<line x1="618.81" x2="618.81" y1="669.2" y2="676.8" stroke="#AAAAAA" stroke-width="1"/>
<line x1="625.38" x2="625.38" y1="669.7" y2="676.8" stroke="#333333" stroke-width="1"/>
<line x1="631.94" x2="631.94" y1="669.7" y2="676.8" stroke="#333333" stroke-width="1"/>
<line x1="638.51" x2="638.51" y1="669.7" y2="676.8" stroke="#333333" stroke-width="1"/>
<line x1="645.08" x2="645.08" y1="669.7" y2="676.8" stroke="#333333" stroke-width="1"/>
<line x1="651.64" x2="651.64" y1="669.2" y2="676.8" stroke="#AAAAAA" stroke-width="1"/>
<line x1="658.21" x2="658.21" y1="669.7" y2="676.8" stroke="#333333" stroke-width="1"/>
<line x1="664.77" x2="664.77" y1="669.7" y2="676.8" stroke="#333333" stroke-width="1"/>
<line x1="671.34" x2="671.34" y1="669.7" y2="676.8" stroke="#333333" stroke-width="1"/>
<line x1="677.91" x2="677.91" y1="669.7" y2="676.8" stroke="#333333" stroke-width="1"/>
<line x1="684.47" x2="684.47" y1="669.2" y2="676.8" stroke="#AAAAAA" stroke-width="1"/>
<line x1="691.04" x2="691.04" y1="669.7" y2="676.8" stroke="#333333" stroke-width="1"/>
<line x1="697.60" x2="697.60" y1="669.7" y2="676.8" stroke="#333333" stroke-width="1"/>
<line x1="704.17" x2="704.17" y1="669.7" y2="676.8" stroke="#333333" stroke-width="1"/>
<line x1="710.74" x2="710.74" y1="669.7" y2="676.8" stroke="#333333" stroke-width="1"/>
<line x1="717.30" x2="717.30" y1="669.2" y2="676.8" stroke="#AAAAAA" stroke-width="1"/>
<line x1="723.87" x2="723.87" y1="669.7" y2="676.8" stroke="#333333" stroke-width="1"/>
<line x1="730.43" x2="730.43" y1="669.7" y2="676.8" stroke="#333333" stroke-width="1"/>
<line x1="737.00" x2="737.00" y1="669.7" y2="676.8" stroke="#333333" stroke-width="1"/>
<line x1="743.57" x2="743.57" y1="669.7" y2="676.8" stroke="#333333" stroke-width="1"/>
<line x1="750.13" x2="750.13" y1="669.2" y2="676.8" stroke="#AAAAAA" stroke-width="1"/>
<line x1="756.70" x2="756.70" y1="669.7" y2="676.8" stroke="#333333" stroke-width="1"/>
<line x1="763.26" x2="763.26" y1="669.7" y2="676.8" stroke="#333333" stroke-width="1"/>
<line x1="769.83" x2="769.83" y1="669.7" y2="676.8" stroke="#333333" stroke-width="1"/>
<line x1="776.40" x2="776.40" y1="669.2" y2="676.8" stroke="#AAAAAA" stroke-width="1"/>
<line x1="782.96" x2="782.96" y1="669.7" y2="676.8" stroke="#333333" stroke-width="1"/>
<line x1="789.53" x2="789.53" y1="669.7" y2="676.8" stroke="#333333" stroke-width="1"/>
<line x1="796.09" x2="796.09" y1="669.7" y2="676.8" stroke="#333333" stroke-width="1"/>
<line x1="802.66" x2="802.66" y1="669.7" y2="676.8" stroke="#333333" stroke-width="1"/>
<line x1="809.23" x2="809.23" y1="669.2" y2="676.8" stroke="#AAAAAA" stroke-width="1"/>
<line x1="815.79" x2="815.79" y1="669.7" y2="676.8" stroke="#333333" stroke-width="1"/>
<line x1="822.36" x2="822.36" y1="669.2" y2="676.8" stroke="#AAAAAA" stroke-width="1"/>
<text x="80.1" y="696" font-size="12" fill="#F2F2F2" text-anchor="middle">Jul 01</text>
<text x="80.1" y="710.1" font-size="12" fill="#F2F2F2" text-anchor="middle">2025</text>
<text x="132.6" y="696" font-size="12" fill="#F2F2F2" text-anchor="middle">Jul 14</text>
<text x="132.6" y="710.1" font-size="12" fill="#F2F2F2" text-anchor="middle">2025</text>
<text x="198.3" y="696" font-size="12" fill="#F2F2F2" text-anchor="middle">Jul 28</text>
<text x="198.3" y="710.1" font-size="12" fill="#F2F2F2" text-anchor="middle">2025</text>
<text x="263.9" y="696" font-size="12" fill="#F2F2F2" text-anchor="middle">Aug 11</text>
<text x="263.9" y="710.1" font-size="12" fill="#F2F2F2" text-anchor="middle">2025</text>
<text x="329.6" y="696" font-size="12" fill="#F2F2F2" text-anchor="middle">Aug 25</text>
<text x="329.6" y="710.1" font-size="12" fill="#F2F2F2" text-anchor="middle">2025</text>
<text x="388.7" y="696" font-size="12" fill="#F2F2F2" text-anchor="middle">Sep 08</text>
<text x="388.7" y="710.1" font-size="12" fill="#F2F2F2" text-anchor="middle">2025</text>
<text x="454.4" y="696" font-size="12" fill="#F2F2F2" text-anchor="middle">Sep 22</text>
<text x="454.4" y="710.1" font-size="12" fill="#F2F2F2" text-anchor="middle">2025</text>
<text x="520.0" y="696" font-size="12" fill="#F2F2F2" text-anchor="middle">Oct 06</text>
<text x="520.0" y="710.1" font-size="12" fill="#F2F2F2" text-anchor="middle">2025</text>
<text x="585.7" y="696" font-size="12" fill="#F2F2F2" text-anchor="middle">Oct 20</text>
<text x="585.7" y="710.1" font-size="12" fill="#F2F2F2" text-anchor="middle">2025</text>
<text x="651.3" y="696" font-size="12" fill="#F2F2F2" text-anchor="middle">Nov 03</text>
<text x="651.3" y="710.1" font-size="12" fill="#F2F2F2" text-anchor="middle">2025</text>
<text x="717.0" y="696" font-size="12" fill="#F2F2F2" text-anchor="middle">Nov 17</text>
<text x="717.0" y="710.1" font-size="12" fill="#F2F2F2" text-anchor="middle">2025</text>
<text x="776.1" y="696" font-size="12" fill="#F2F2F2" text-anchor="middle">Dec 01</text>
<text x="776.1" y="710.1" font-size="12" fill="#F2F2F2" text-anchor="middle">2025</text>
<text x="50.6" y="19.6" font-size="14.4" font-weight="bold" fill="#FFFFFF" xml:space="preserve" textLength="202" lengthAdjust="spacing">HDLMY  6 month - daily close</text>
<text x="856.6" y="19.6" font-size="14.4" font-weight="bold" fill="#999999" text-anchor="end">[2025-07-01/2025-12-10]</text>
<text x="72.2" y="46.8" font-size="12" fill="#00EE00" textLength="133.5" lengthAdjust="spacing">Last 51.2000007629395</text>
<text x="72.2" y="487.5" font-size="12" fill="#F2F2F2" textLength="106" lengthAdjust="spacing">Volume (100,000s):</text>
<text x="71.9" y="501.5" font-size="12" fill="#00EE00" textLength="37.6" lengthAdjust="spacing">35,000</text>
</g>
</svg></body></html>
